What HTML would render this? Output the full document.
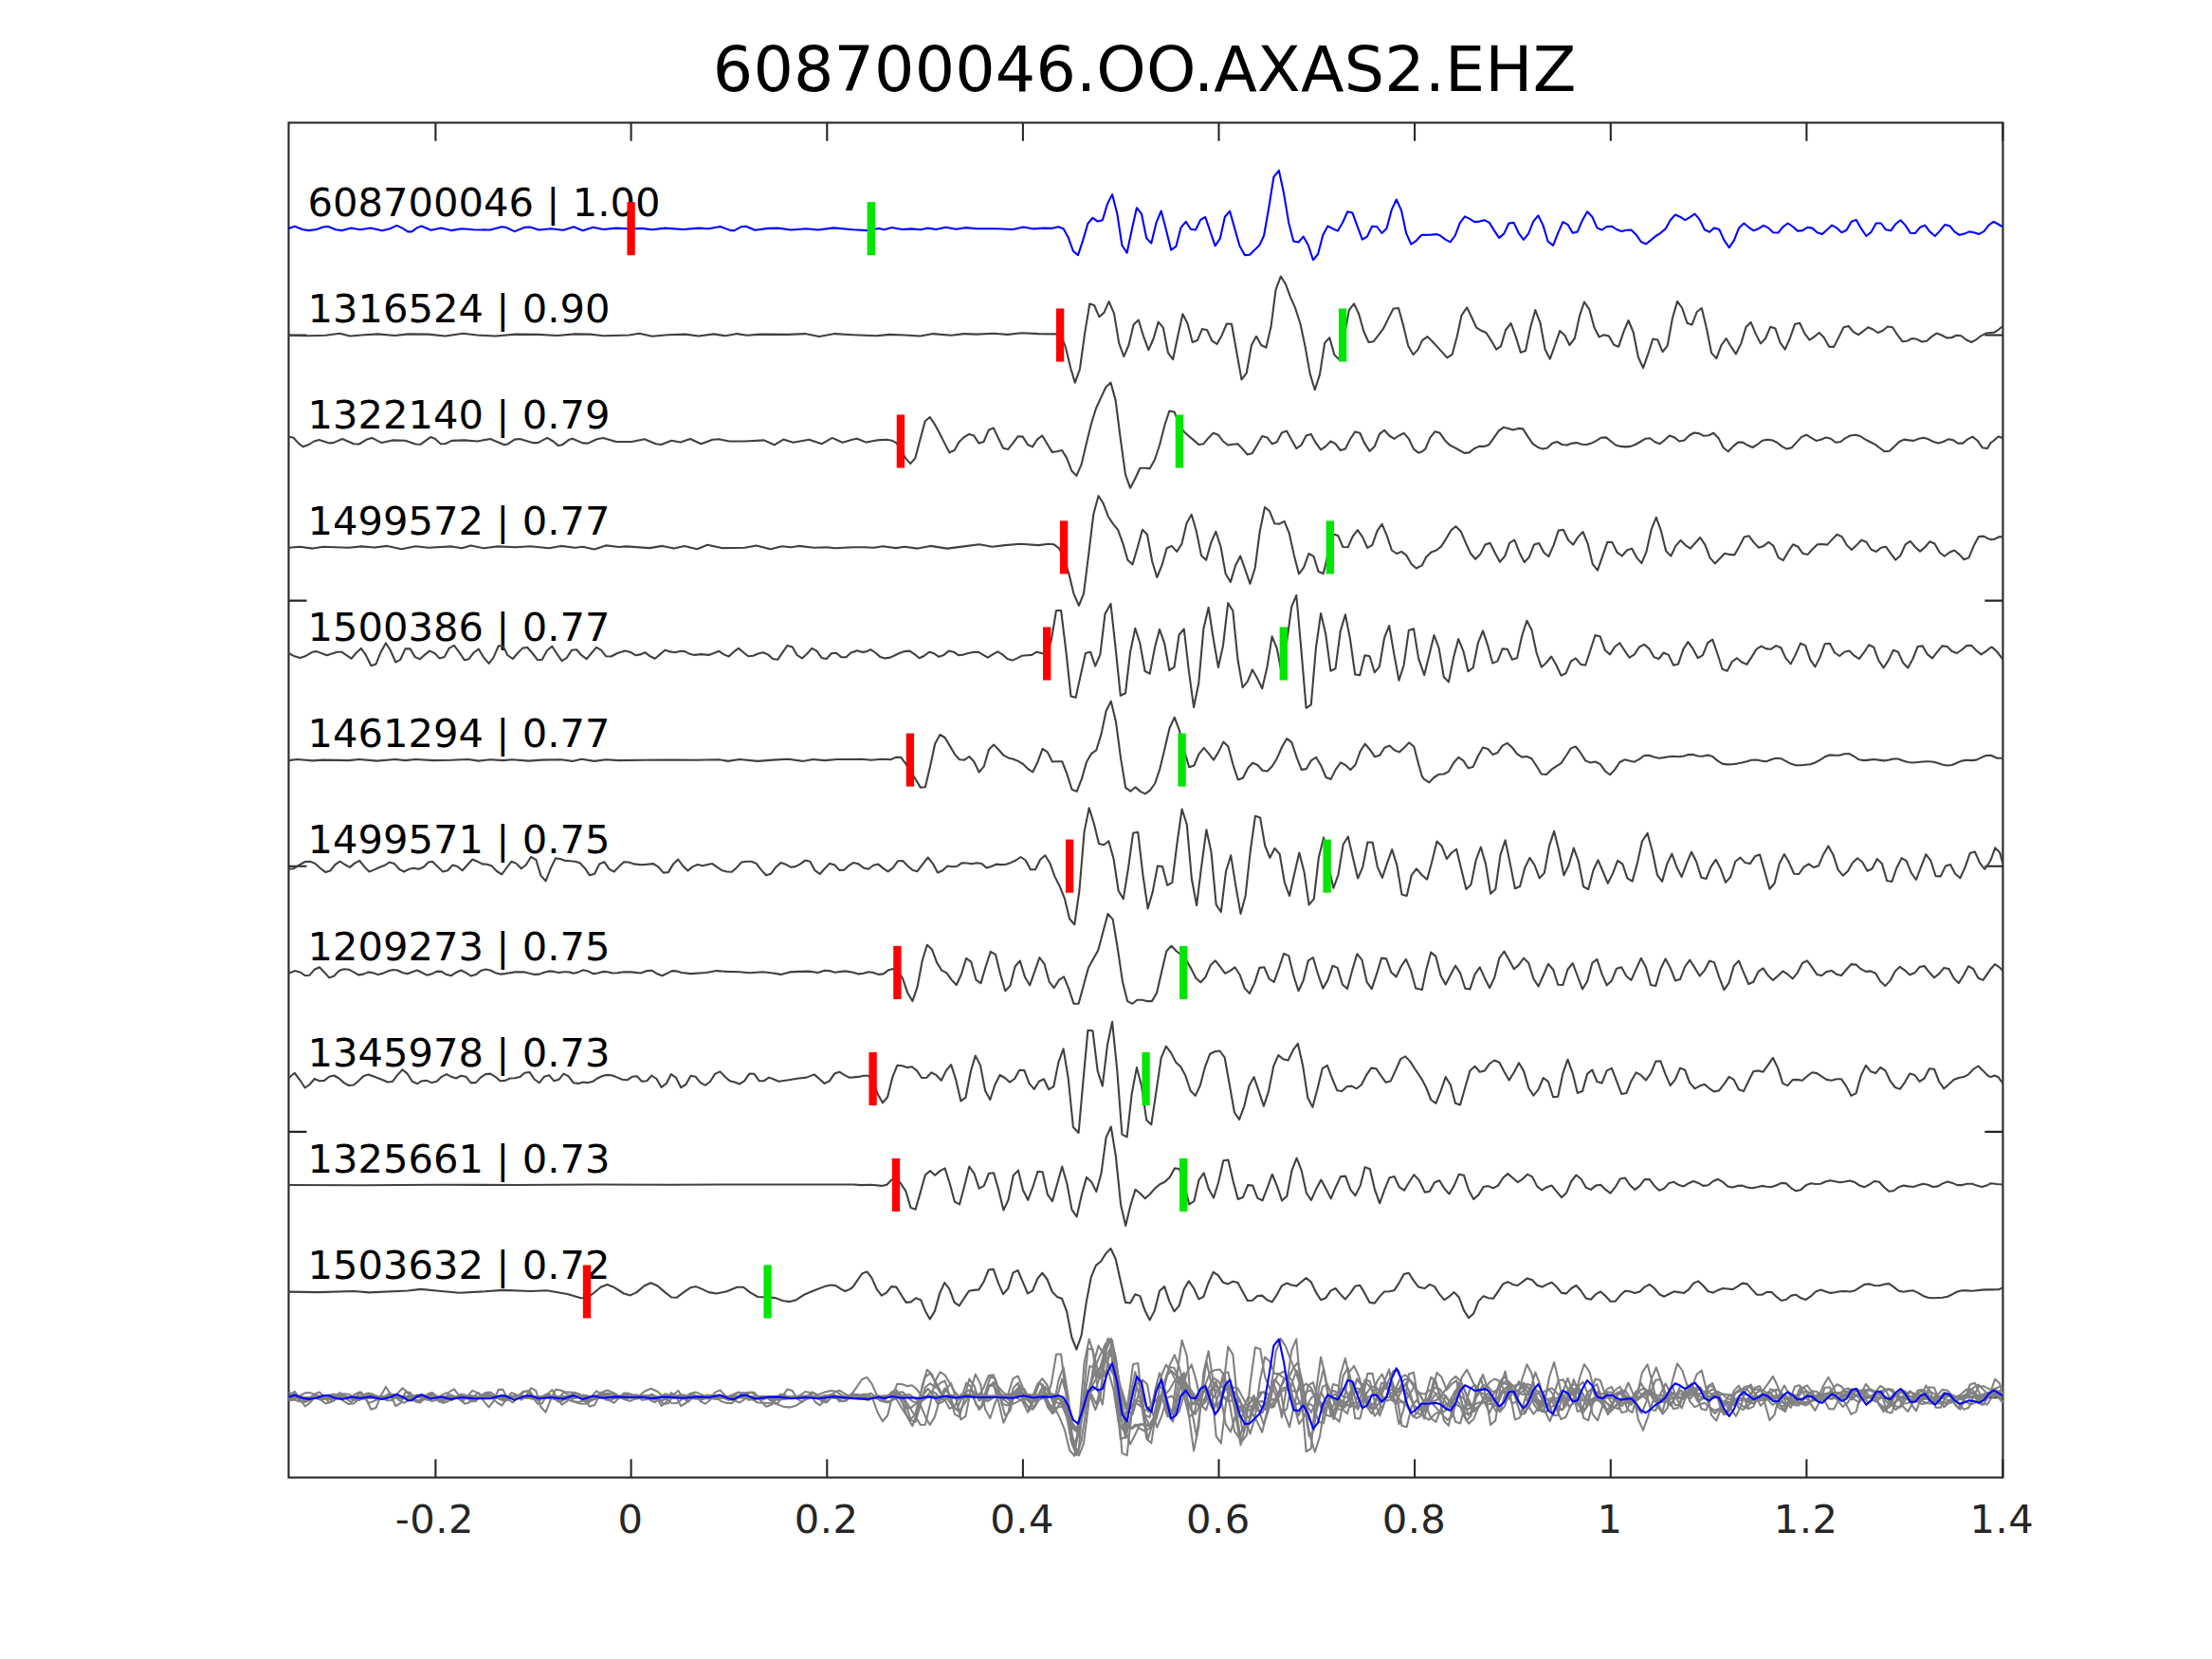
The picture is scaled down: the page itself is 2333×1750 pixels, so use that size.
<!DOCTYPE html>
<html><head><meta charset="utf-8"><title>608700046.OO.AXAS2.EHZ</title>
<style>html,body{margin:0;padding:0;background:#fff}svg{display:block}text{font-family:"DejaVu Sans","Liberation Sans",sans-serif}</style></head><body>
<svg width="2333" height="1750" viewBox="0 0 2333 1750">
<rect width="2333" height="1750" fill="#fff"/>
<text x="751.8" y="95.9" font-size="66.67" letter-spacing="0.17" fill="#000">608700046.OO.AXAS2.EHZ</text>
<g fill="none" stroke="#262626" stroke-width="2.08" stroke-linecap="square">
<rect x="304.45" y="129.45" width="1808.0" height="1429.1"/>
</g><g fill="none" stroke="#262626" stroke-width="2.08">
<path d="M459.4,1558.6 v-19.3 M459.4,129.45 v19.3"/>
<path d="M665.6,1558.6 v-19.3 M665.6,129.45 v19.3"/>
<path d="M872.3,1558.6 v-19.3 M872.3,129.45 v19.3"/>
<path d="M1078.9,1558.6 v-19.3 M1078.9,129.45 v19.3"/>
<path d="M1285.5,1558.6 v-19.3 M1285.5,129.45 v19.3"/>
<path d="M1492.1,1558.6 v-19.3 M1492.1,129.45 v19.3"/>
<path d="M1698.8,1558.6 v-19.3 M1698.8,129.45 v19.3"/>
<path d="M1905.4,1558.6 v-19.3 M1905.4,129.45 v19.3"/>
<path d="M2112.4,1558.6 v-19.3 M2112.4,129.45 v19.3"/>
<path d="M304.45,353.5 h19.0 M2112.4,353.5 h-19.0"/>
<path d="M304.45,633.6 h19.0 M2112.4,633.6 h-19.0"/>
<path d="M304.45,913.8 h19.0 M2112.4,913.8 h-19.0"/>
<path d="M304.45,1193.9 h19.0 M2112.4,1193.9 h-19.0"/>
<path d="M304.45,1474.1 h19.0 M2112.4,1474.1 h-19.0"/>
</g>
<text x="324.6" y="227.8" font-size="41.67" fill="#000">608700046 | 1.00</text>
<text x="324.6" y="340.1" font-size="41.67" fill="#000">1316524 | 0.90</text>
<text x="324.6" y="452.1" font-size="41.67" fill="#000">1322140 | 0.79</text>
<text x="324.6" y="564.0" font-size="41.67" fill="#000">1499572 | 0.77</text>
<text x="324.6" y="676.1" font-size="41.67" fill="#000">1500386 | 0.77</text>
<text x="324.6" y="788.2" font-size="41.67" fill="#000">1461294 | 0.77</text>
<text x="324.6" y="900.2" font-size="41.67" fill="#000">1499571 | 0.75</text>
<text x="324.6" y="1012.5" font-size="41.67" fill="#000">1209273 | 0.75</text>
<text x="324.6" y="1124.6" font-size="41.67" fill="#000">1345978 | 0.73</text>
<text x="324.6" y="1236.5" font-size="41.67" fill="#000">1325661 | 0.73</text>
<text x="324.6" y="1349.1" font-size="41.67" fill="#000">1503632 | 0.72</text>
<g fill="none" stroke-width="2.08" stroke-linejoin="round" stroke-linecap="butt">
<path stroke="#404040" d="M304.4,353.7 L324.4,354.3 L343.4,353.7 L358.3,351.8 L369.2,354.5 L384.1,353.2 L399.0,352.4 L416.6,354.0 L430.2,352.4 L451.9,352.6 L469.5,354.5 L488.5,351.8 L503.4,353.5 L522.4,354.5 L544.1,352.6 L568.5,352.9 L587.5,354.0 L606.5,352.4 L622.8,352.6 L636.3,354.3 L663.4,353.5 L674.3,351.8 L687.8,354.8 L704.1,353.2 L723.1,352.6 L736.7,354.5 L752.9,352.4 L765.1,354.3 L777.4,352.1 L788.2,353.7 L801.8,352.6 L831.6,352.9 L849.2,352.1 L864.1,355.1 L880.4,352.1 L899.9,353.2 L924.4,354.3 L938.0,352.9 L954.2,353.5 L970.5,354.5 L984.1,352.1 L1003.1,353.7 L1016.6,352.1 L1030.2,352.6 L1047.8,351.8 L1062.7,352.9 L1077.7,351.3 L1095.3,352.1 L1114.3,352.4 L1121.6,360.2 L1124.0,366.5 L1129.2,388.2 L1133.8,403.6 L1138.9,389.5 L1144.1,351.6 L1149.3,320.4 L1154.1,322.0 L1159.3,334.2 L1164.4,329.9 L1169.6,318.2 L1175.0,330.7 L1180.2,361.9 L1185.3,376.0 L1190.5,364.0 L1195.6,342.6 L1200.8,337.5 L1205.9,354.3 L1211.4,369.2 L1216.5,357.5 L1221.7,339.6 L1226.8,345.6 L1232.0,372.2 L1237.1,379.2 L1242.3,354.3 L1247.4,331.2 L1252.6,341.5 L1257.7,361.0 L1262.9,359.1 L1268.0,346.9 L1273.2,348.3 L1278.4,359.7 L1283.5,362.9 L1288.7,353.7 L1293.8,341.5 L1299.0,341.8 L1304.1,370.5 L1309.5,400.4 L1314.7,393.6 L1319.9,364.3 L1325.0,354.8 L1330.2,364.0 L1335.3,366.7 L1340.5,344.8 L1345.6,305.4 L1350.8,291.6 L1355.9,299.5 L1361.1,313.6 L1366.2,325.2 L1371.4,341.2 L1376.5,365.1 L1381.7,394.4 L1386.8,411.2 L1392.0,394.9 L1397.2,361.6 L1402.3,356.2 L1407.5,374.6 L1412.6,379.2 L1417.8,354.3 L1422.9,327.1 L1428.1,320.4 L1433.2,331.2 L1438.4,349.7 L1443.5,361.0 L1448.7,360.2 L1453.8,353.7 L1459.0,346.7 L1464.1,336.4 L1469.6,325.5 L1475.0,325.0 L1480.1,343.4 L1485.3,365.1 L1490.5,374.1 L1495.6,368.6 L1500.0,359.1 L1505.4,355.1 L1510.8,360.2 L1516.0,365.9 L1521.2,371.6 L1526.3,377.3 L1531.7,373.8 L1536.9,354.3 L1541.5,332.6 L1547.2,324.4 L1552.1,334.5 L1557.2,345.6 L1562.4,348.8 L1567.5,351.0 L1572.7,359.1 L1578.1,368.6 L1583.0,365.1 L1588.1,348.0 L1593.6,341.0 L1598.7,355.1 L1603.9,371.9 L1609.0,370.0 L1614.2,345.3 L1619.3,327.1 L1624.5,340.7 L1629.6,368.6 L1634.8,378.7 L1640.0,364.0 L1645.1,349.1 L1650.3,353.5 L1655.4,364.0 L1660.8,357.0 L1666.0,333.1 L1670.9,318.5 L1676.3,326.3 L1681.4,345.3 L1686.6,355.4 L1691.8,353.2 L1696.9,354.5 L1702.1,363.8 L1707.2,365.7 L1712.4,350.2 L1717.5,338.0 L1722.7,350.5 L1727.8,376.5 L1733.0,388.2 L1738.1,373.8 L1743.3,357.5 L1748.4,358.6 L1753.6,371.1 L1758.7,364.6 L1763.9,335.8 L1769.1,317.9 L1774.2,325.0 L1779.4,340.7 L1784.5,342.6 L1789.7,329.0 L1794.8,325.0 L1800.0,346.7 L1805.1,372.4 L1810.3,378.1 L1815.4,364.3 L1820.6,357.0 L1825.7,365.7 L1830.9,373.3 L1836.3,362.4 L1841.5,345.0 L1846.6,339.9 L1851.8,352.1 L1856.9,362.4 L1862.1,357.0 L1867.2,344.8 L1872.4,346.4 L1877.5,361.3 L1882.7,368.6 L1887.8,357.0 L1893.0,342.1 L1898.2,340.7 L1903.3,351.6 L1908.5,358.6 L1913.6,355.1 L1918.8,351.0 L1923.9,356.2 L1929.1,365.7 L1934.2,365.9 L1939.4,355.6 L1944.5,345.3 L1949.7,344.0 L1954.8,350.2 L1960.0,353.2 L1965.1,349.4 L1970.3,345.3 L1975.5,347.5 L1980.6,351.0 L1985.8,348.8 L1990.9,344.5 L1996.1,345.3 L2001.2,353.2 L2006.4,360.2 L2011.5,359.7 L2016.7,357.0 L2021.8,357.8 L2027.0,360.5 L2032.1,359.7 L2037.3,355.1 L2042.4,351.6 L2047.9,353.5 L2053.0,356.4 L2058.2,356.2 L2063.3,353.7 L2068.5,354.3 L2073.6,358.3 L2079.1,361.0 L2084.2,358.3 L2089.4,354.3 L2094.5,351.6 L2099.9,351.0 L2103.4,350.6 L2107.7,347.8 L2112.3,344.0"/>
<path stroke="#404040" d="M304.4,460.6 L309.5,461.7 L314.9,467.6 L319.5,471.2 L325.8,469.0 L331.2,465.5 L336.6,464.1 L347.5,467.4 L351.5,467.1 L361.0,463.0 L373.2,468.2 L378.7,468.5 L386.8,463.6 L392.2,461.9 L402.5,467.1 L413.9,464.4 L427.5,464.7 L438.3,468.5 L443.7,468.7 L454.1,461.1 L458.7,462.8 L464.9,468.2 L469.5,468.2 L476.3,464.9 L489.9,464.4 L503.4,465.5 L517.0,463.0 L531.9,469.3 L536.0,468.2 L542.7,463.6 L548.2,463.0 L561.7,467.1 L567.2,467.1 L577.2,461.9 L583.4,465.5 L588.9,470.1 L592.9,469.3 L599.7,464.1 L603.8,462.8 L614.6,467.4 L620.0,467.6 L629.5,463.3 L636.3,461.9 L649.9,466.0 L666.2,466.0 L679.7,463.3 L691.9,468.2 L697.3,469.0 L708.2,464.7 L717.7,466.6 L728.0,463.0 L739.4,468.2 L751.6,463.8 L758.4,463.3 L769.2,465.5 L785.5,465.5 L805.8,464.4 L816.7,469.3 L826.2,463.6 L836.5,466.8 L853.3,463.8 L866.9,468.2 L877.7,461.9 L888.6,466.8 L899.9,463.6 L904.1,462.8 L913.6,466.6 L924.4,464.4 L935.3,463.8 L940.7,464.7 L945.6,467.4 L950.7,476.3 L955.6,483.9 L960.2,489.1 L965.4,483.1 L970.5,463.6 L975.7,444.3 L980.8,440.0 L986.0,447.8 L991.1,457.3 L996.3,467.6 L1001.4,477.4 L1006.6,475.0 L1011.7,466.0 L1016.9,461.1 L1022.1,457.9 L1027.2,459.5 L1032.4,467.6 L1037.5,466.0 L1042.7,453.8 L1047.8,451.4 L1053.0,462.2 L1058.1,472.8 L1063.3,473.9 L1068.4,467.4 L1073.6,460.3 L1078.7,460.6 L1083.9,469.0 L1089.0,471.4 L1094.2,463.3 L1099.3,459.5 L1104.5,468.2 L1109.7,476.9 L1114.8,476.3 L1120.0,475.0 L1125.1,483.1 L1130.3,496.7 L1135.4,501.8 L1140.6,489.9 L1145.7,468.2 L1150.9,447.3 L1156.0,430.8 L1161.2,419.4 L1166.3,408.5 L1171.5,403.6 L1176.6,422.1 L1181.8,462.8 L1187.0,500.7 L1192.1,514.8 L1197.3,504.8 L1202.4,493.7 L1207.6,493.7 L1212.7,494.2 L1217.9,485.0 L1223.0,469.5 L1228.2,449.2 L1233.3,433.5 L1238.5,434.5 L1243.6,446.5 L1248.8,455.4 L1253.9,460.0 L1259.1,464.4 L1264.3,469.0 L1269.4,468.2 L1274.6,461.9 L1279.7,456.8 L1284.9,458.7 L1290.0,465.5 L1295.2,469.5 L1300.3,468.7 L1305.5,468.2 L1310.6,473.6 L1315.8,479.6 L1320.9,477.9 L1326.1,469.0 L1331.2,460.0 L1336.4,461.4 L1341.6,468.2 L1346.7,466.3 L1351.9,456.5 L1357.0,454.6 L1362.2,464.1 L1367.3,473.1 L1372.5,469.5 L1377.6,459.5 L1382.8,457.9 L1387.9,467.4 L1393.1,474.4 L1398.2,470.9 L1403.4,465.5 L1408.5,468.2 L1413.7,475.0 L1418.9,473.6 L1424.0,463.3 L1429.2,455.4 L1434.3,456.8 L1439.5,468.2 L1444.6,475.8 L1449.8,470.9 L1454.9,457.9 L1460.1,453.8 L1465.2,459.5 L1470.4,462.8 L1475.5,459.5 L1480.7,456.8 L1485.8,462.8 L1491.0,473.6 L1496.1,477.7 L1500.0,476.3 L1503.3,473.6 L1508.4,461.7 L1513.6,455.2 L1518.7,456.8 L1523.9,464.4 L1529.0,469.5 L1534.2,472.2 L1539.3,475.0 L1544.5,477.9 L1549.6,477.4 L1554.8,473.3 L1559.9,470.9 L1565.1,470.9 L1570.2,469.3 L1575.4,462.2 L1580.6,454.6 L1585.7,450.8 L1590.9,451.9 L1596.0,453.5 L1601.2,451.9 L1606.3,452.4 L1611.5,460.6 L1616.6,468.2 L1621.8,471.7 L1626.9,473.6 L1632.1,472.5 L1637.2,467.6 L1642.4,466.0 L1647.5,469.0 L1652.7,469.5 L1657.9,467.6 L1663.0,467.1 L1668.2,468.7 L1673.3,469.0 L1678.5,467.6 L1683.6,464.9 L1688.8,461.7 L1693.9,461.4 L1699.1,465.5 L1704.2,469.5 L1709.4,470.9 L1714.5,471.4 L1719.7,470.9 L1724.8,469.0 L1730.0,466.0 L1735.2,462.8 L1740.3,462.2 L1745.5,466.3 L1750.6,468.2 L1755.8,464.1 L1760.9,459.5 L1766.1,461.4 L1771.2,465.5 L1776.4,464.4 L1781.5,459.5 L1786.7,456.5 L1791.8,457.1 L1797.0,459.8 L1802.1,459.2 L1807.3,456.8 L1812.4,461.9 L1817.6,472.2 L1822.8,476.3 L1827.9,470.9 L1833.1,466.6 L1838.2,466.6 L1843.4,469.8 L1848.5,472.0 L1853.7,468.7 L1858.8,464.7 L1864.0,463.8 L1869.1,464.4 L1874.3,466.8 L1879.4,470.9 L1884.6,473.6 L1889.7,472.2 L1894.9,466.6 L1900.1,460.9 L1905.2,458.7 L1910.4,461.9 L1915.5,464.9 L1920.7,463.8 L1925.8,461.4 L1931.0,462.8 L1936.1,466.8 L1941.3,466.0 L1946.4,462.2 L1951.6,459.5 L1956.7,458.7 L1961.9,460.0 L1967.0,463.3 L1972.2,466.0 L1977.4,468.7 L1982.5,472.5 L1987.7,476.3 L1992.8,475.8 L1998.0,470.9 L2003.1,466.0 L2008.3,463.6 L2013.4,464.4 L2018.6,464.9 L2023.7,462.8 L2028.9,461.7 L2034.0,463.3 L2039.2,466.0 L2044.3,467.6 L2049.5,466.0 L2054.7,463.3 L2059.8,464.1 L2065.0,467.6 L2070.1,467.6 L2075.3,463.3 L2080.4,460.6 L2085.6,464.7 L2090.7,472.2 L2095.9,473.1 L2099.9,466.8 L2101.9,465.5 L2107.7,460.5 L2112.3,462.0"/>
<path stroke="#404040" d="M304.4,577.8 L316.3,576.7 L329.8,578.6 L340.7,576.7 L354.2,577.3 L367.8,577.8 L381.4,576.4 L394.9,577.5 L408.5,575.9 L423.4,579.2 L438.3,576.2 L451.9,577.8 L476.3,576.4 L487.1,578.3 L496.6,575.4 L510.2,578.3 L525.1,576.4 L544.1,577.3 L559.0,576.2 L579.4,578.3 L591.6,575.9 L606.5,577.8 L614.6,576.7 L626.8,579.4 L639.0,575.4 L652.6,577.0 L660.7,576.4 L685.1,578.1 L698.7,575.9 L710.9,578.6 L721.8,575.9 L735.3,579.2 L746.2,574.8 L761.1,578.1 L785.5,577.8 L797.7,575.6 L812.6,579.2 L824.8,576.2 L834.3,577.3 L842.4,575.9 L858.7,577.8 L872.3,577.3 L880.4,578.3 L899.9,577.3 L910.8,577.3 L921.7,577.8 L931.2,576.2 L944.8,578.1 L954.2,576.7 L967.8,578.6 L981.4,575.9 L999.0,578.6 L1016.6,576.4 L1032.9,574.3 L1046.5,576.7 L1060.0,575.1 L1076.3,573.7 L1095.3,575.1 L1106.1,573.7 L1111.6,574.3 L1117.0,578.3 L1122.1,588.7 L1127.3,604.9 L1132.4,626.1 L1137.9,638.8 L1143.0,626.1 L1148.2,584.6 L1153.3,542.5 L1158.5,523.0 L1163.6,530.9 L1168.8,544.7 L1173.9,552.6 L1179.1,558.8 L1184.2,572.9 L1189.4,590.8 L1194.5,595.4 L1199.7,577.8 L1204.9,558.8 L1210.0,563.7 L1215.2,592.2 L1220.3,609.0 L1225.5,596.2 L1230.6,578.3 L1235.8,575.9 L1241.2,581.9 L1246.4,573.7 L1251.5,552.0 L1256.7,542.8 L1261.8,560.2 L1267.0,585.9 L1272.1,590.8 L1277.3,572.4 L1282.4,560.7 L1287.6,577.0 L1292.7,605.5 L1297.9,613.9 L1303.0,596.8 L1308.2,586.5 L1313.3,600.9 L1318.5,615.8 L1323.7,599.0 L1328.8,560.2 L1334.0,535.0 L1339.1,539.3 L1344.3,552.3 L1349.4,552.6 L1354.6,549.9 L1359.7,562.3 L1364.9,585.9 L1370.0,605.5 L1375.2,598.4 L1380.3,584.0 L1385.5,586.8 L1390.6,603.0 L1395.8,604.9 L1400.9,583.2 L1406.1,563.4 L1411.3,565.1 L1416.4,577.0 L1421.6,577.3 L1426.7,565.9 L1431.9,559.1 L1437.0,566.4 L1442.2,577.8 L1447.3,575.1 L1452.5,560.2 L1457.6,552.9 L1462.8,565.1 L1467.9,580.5 L1473.1,584.0 L1478.2,581.9 L1483.4,585.9 L1488.6,594.9 L1493.7,599.5 L1498.9,596.8 L1500.0,596.0 L1504.1,587.8 L1509.5,582.4 L1514.9,580.5 L1520.1,576.4 L1525.2,568.3 L1530.4,559.4 L1535.5,555.3 L1540.7,560.4 L1545.8,572.4 L1551.0,583.8 L1556.1,589.7 L1561.3,584.6 L1566.4,574.6 L1571.6,572.7 L1576.8,583.2 L1581.9,592.7 L1587.1,586.8 L1592.2,572.7 L1597.4,569.7 L1602.5,582.7 L1607.7,593.0 L1612.8,587.6 L1618.0,574.6 L1623.1,572.9 L1628.3,582.7 L1633.4,587.0 L1638.6,575.1 L1643.7,559.6 L1648.9,558.8 L1654.1,569.7 L1659.2,574.6 L1664.4,566.4 L1669.5,561.0 L1674.7,573.7 L1679.8,595.2 L1685.0,601.7 L1690.1,586.8 L1695.3,571.8 L1700.4,572.1 L1705.6,582.7 L1710.7,586.5 L1715.9,580.5 L1721.0,578.6 L1726.2,588.1 L1731.4,594.1 L1736.5,581.9 L1741.7,558.3 L1746.8,545.8 L1752.0,560.2 L1757.1,581.3 L1762.3,586.5 L1767.4,575.9 L1772.6,569.9 L1777.7,575.1 L1782.9,578.6 L1788.0,572.7 L1793.2,567.0 L1798.3,574.6 L1803.5,588.4 L1808.7,594.4 L1813.8,589.2 L1819.0,583.8 L1824.1,584.9 L1829.3,585.4 L1834.4,576.4 L1839.6,566.4 L1844.7,565.3 L1849.9,572.4 L1855.0,577.8 L1860.2,575.9 L1865.3,571.8 L1870.5,575.9 L1875.6,588.1 L1880.8,591.1 L1886.0,581.9 L1891.1,574.3 L1896.3,576.7 L1901.4,583.8 L1906.6,584.9 L1911.7,579.2 L1916.9,574.3 L1922.0,574.0 L1927.2,574.6 L1932.3,569.1 L1937.5,563.7 L1942.6,566.1 L1947.8,575.1 L1952.9,580.0 L1958.1,575.1 L1963.2,569.7 L1968.4,571.8 L1973.6,579.7 L1978.7,581.9 L1983.9,577.8 L1989.0,576.7 L1994.2,583.8 L1999.3,590.6 L2004.5,585.9 L2009.6,574.3 L2014.8,570.8 L2019.9,577.0 L2025.1,581.6 L2030.2,577.3 L2035.4,571.3 L2040.5,573.5 L2045.7,582.7 L2050.9,586.8 L2056.0,582.7 L2061.2,580.5 L2066.3,584.6 L2071.5,590.3 L2076.6,588.1 L2081.8,575.6 L2086.9,566.1 L2092.1,565.6 L2097.2,568.3 L2099.9,569.1 L2103.4,568.7 L2109.2,566.0 L2112.3,566.7"/>
<path stroke="#404040" d="M304.4,689.0 L310.8,692.3 L316.3,693.9 L321.7,692.3 L329.8,687.7 L333.9,687.1 L344.8,691.2 L355.6,687.7 L360.2,687.7 L370.5,694.7 L375.9,688.5 L380.8,683.9 L386.0,691.2 L391.4,702.3 L396.6,700.4 L401.7,687.7 L406.9,678.4 L412.0,686.3 L417.2,698.5 L422.3,695.8 L427.5,684.4 L432.6,684.4 L437.8,693.1 L442.9,695.2 L448.1,690.6 L453.2,686.6 L458.4,689.0 L463.5,694.4 L468.7,693.1 L473.9,683.6 L479.0,680.9 L484.2,687.9 L489.9,696.3 L494.5,695.2 L499.6,688.5 L504.8,684.7 L509.9,693.1 L515.6,699.9 L520.5,693.6 L525.7,681.4 L530.5,681.4 L535.4,691.2 L540.8,695.0 L546.0,689.0 L551.2,683.6 L556.3,683.0 L561.5,689.0 L567.2,696.3 L571.8,695.8 L576.9,686.3 L582.3,681.7 L587.5,689.8 L592.6,697.1 L597.8,693.9 L603.0,685.8 L608.1,685.2 L613.3,691.2 L618.7,695.2 L623.8,689.0 L629.0,682.8 L634.1,685.8 L639.3,692.3 L644.5,692.5 L651.2,689.0 L659.4,686.6 L664.8,687.9 L670.2,691.2 L675.6,690.4 L680.3,688.2 L685.7,692.3 L690.8,694.7 L696.0,690.4 L701.4,685.8 L706.8,687.4 L712.3,688.2 L717.7,686.8 L722.3,687.1 L727.4,689.8 L732.6,690.9 L739.4,690.1 L747.5,690.9 L752.9,689.0 L758.4,686.8 L763.5,690.4 L768.7,692.5 L773.8,687.7 L779.0,683.9 L784.1,688.2 L789.3,692.3 L794.4,691.7 L799.6,689.5 L804.7,688.2 L809.9,690.4 L815.1,695.0 L820.2,695.8 L825.4,688.2 L830.5,680.9 L835.7,682.5 L840.8,691.2 L846.0,694.4 L851.1,689.8 L856.3,683.9 L861.4,686.6 L866.6,693.9 L871.7,695.0 L876.9,689.3 L882.0,688.7 L887.2,693.1 L892.4,693.3 L897.5,688.5 L899.9,687.7 L904.1,686.3 L909.5,687.9 L913.6,687.4 L918.2,685.2 L923.3,688.5 L928.5,693.1 L933.6,694.4 L938.8,693.6 L943.9,691.2 L949.1,688.7 L954.2,687.1 L959.4,686.6 L964.6,690.1 L969.7,694.2 L974.9,691.7 L980.0,687.7 L985.2,689.3 L990.3,692.8 L995.5,690.9 L1000.6,686.6 L1005.8,687.7 L1010.9,691.2 L1016.1,690.6 L1021.2,689.0 L1026.4,687.9 L1031.5,687.7 L1036.7,690.6 L1041.8,693.6 L1047.0,690.4 L1052.2,687.4 L1057.3,690.4 L1062.5,695.0 L1067.6,696.6 L1072.8,694.4 L1077.9,691.7 L1083.1,691.2 L1088.2,690.9 L1093.4,687.7 L1098.5,689.0 L1103.7,690.4 L1108.8,675.4 L1114.0,644.0 L1119.1,644.0 L1124.3,686.3 L1129.5,734.6 L1134.6,735.7 L1139.8,712.1 L1144.9,689.0 L1150.1,687.7 L1155.2,702.6 L1160.4,690.4 L1165.5,647.5 L1171.5,636.9 L1176.6,683.6 L1181.8,733.8 L1187.0,731.3 L1192.1,687.7 L1197.3,662.7 L1202.4,678.7 L1207.6,708.0 L1212.7,710.7 L1217.9,683.6 L1223.0,663.8 L1228.2,678.7 L1233.3,707.2 L1238.5,703.7 L1243.6,669.5 L1248.8,663.5 L1253.9,708.0 L1259.1,746.0 L1264.3,720.2 L1269.4,663.2 L1274.6,640.7 L1279.7,673.5 L1284.9,703.9 L1290.0,680.9 L1295.2,636.1 L1300.3,644.3 L1305.5,695.8 L1310.6,725.1 L1315.8,718.8 L1320.9,706.4 L1326.1,715.6 L1331.2,726.2 L1336.4,703.9 L1341.6,671.4 L1346.7,683.6 L1351.9,710.7 L1357.0,678.2 L1362.2,640.2 L1367.3,628.0 L1372.5,686.3 L1377.6,746.8 L1382.8,743.3 L1387.9,683.6 L1393.1,647.0 L1398.2,668.7 L1403.4,707.7 L1408.5,705.3 L1413.7,666.0 L1418.9,648.3 L1424.0,674.1 L1429.2,711.5 L1434.3,712.1 L1439.5,691.2 L1444.6,692.3 L1449.8,709.3 L1454.9,703.1 L1460.1,672.7 L1465.2,660.0 L1470.4,690.4 L1475.5,717.8 L1480.7,701.2 L1485.8,665.1 L1491.0,663.2 L1496.1,694.4 L1499.9,705.3 L1502.2,712.1 L1507.3,691.2 L1512.5,670.0 L1517.6,683.6 L1522.8,714.0 L1527.9,719.4 L1533.1,693.6 L1538.2,674.1 L1543.4,686.8 L1548.5,708.3 L1553.7,704.2 L1558.9,678.2 L1564.0,665.4 L1569.2,680.9 L1574.3,699.6 L1579.5,697.4 L1584.6,684.4 L1589.8,684.7 L1594.9,695.8 L1600.1,693.9 L1605.2,670.8 L1610.4,654.8 L1615.5,664.6 L1620.7,689.0 L1625.8,703.7 L1631.0,699.0 L1636.2,692.5 L1641.3,701.2 L1646.5,712.6 L1651.6,710.2 L1656.8,697.7 L1661.9,694.4 L1667.1,700.7 L1672.2,701.8 L1677.4,685.8 L1682.5,670.0 L1687.7,671.4 L1692.8,685.8 L1698.0,690.4 L1703.1,682.2 L1708.3,678.2 L1713.5,686.3 L1718.6,693.6 L1723.8,690.4 L1728.9,682.5 L1734.1,679.8 L1739.2,684.1 L1744.4,693.1 L1749.5,695.0 L1754.7,688.5 L1759.8,690.9 L1765.0,701.8 L1770.1,700.4 L1775.3,684.9 L1780.4,677.1 L1785.6,684.4 L1790.8,694.2 L1795.9,691.2 L1801.1,678.2 L1806.2,674.6 L1811.4,689.5 L1816.5,705.8 L1821.7,707.7 L1826.8,698.0 L1832.0,694.2 L1837.1,698.5 L1842.3,700.9 L1847.4,693.1 L1852.6,684.7 L1857.7,681.7 L1862.9,684.4 L1868.0,684.7 L1873.2,681.1 L1878.4,683.3 L1883.5,694.4 L1888.7,700.4 L1893.8,690.4 L1899.0,678.7 L1904.1,680.9 L1909.3,695.8 L1914.4,703.4 L1919.6,693.1 L1924.7,679.2 L1929.9,678.7 L1935.0,688.5 L1940.2,692.0 L1945.3,687.7 L1950.5,686.6 L1955.7,691.7 L1960.8,695.0 L1966.0,688.2 L1971.1,680.3 L1976.3,682.8 L1981.4,696.6 L1986.6,704.5 L1991.7,696.6 L1996.9,685.8 L2002.0,687.7 L2007.2,699.3 L2012.3,704.5 L2017.5,695.0 L2022.6,682.0 L2027.8,681.4 L2033.0,690.4 L2038.1,694.4 L2043.3,687.7 L2048.4,681.4 L2053.6,682.0 L2058.7,687.1 L2063.9,689.0 L2069.0,685.5 L2074.2,681.1 L2079.3,680.9 L2084.5,686.3 L2089.6,690.4 L2094.8,686.8 L2099.9,682.8 L2101.4,682.9 L2106.3,687.5 L2112.3,695.3"/>
<path stroke="#404040" d="M304.4,802.1 L313.6,801.0 L329.8,802.4 L340.7,801.6 L367.8,802.1 L378.7,801.0 L397.6,802.6 L416.6,801.0 L427.5,802.1 L438.3,801.0 L457.3,802.1 L476.3,801.8 L493.9,801.0 L504.8,802.6 L517.0,801.3 L530.5,802.1 L540.0,801.3 L557.7,802.6 L571.2,801.6 L591.6,801.3 L603.8,802.9 L613.3,800.8 L626.8,802.9 L639.0,801.3 L652.6,802.1 L679.7,801.8 L706.8,801.6 L734.0,801.8 L758.4,801.3 L767.9,802.9 L780.1,801.0 L799.1,802.9 L815.3,801.6 L831.6,800.8 L846.5,802.9 L857.4,801.0 L869.6,802.1 L883.1,801.0 L899.9,801.0 L908.1,800.8 L919.0,801.8 L929.8,800.8 L939.3,801.3 L944.8,798.9 L950.2,798.9 L955.3,805.6 L960.5,813.8 L965.6,821.9 L970.8,830.6 L975.9,830.3 L981.1,808.3 L986.2,784.5 L991.4,775.0 L996.6,778.0 L1001.7,786.6 L1006.9,795.6 L1012.0,801.3 L1017.2,801.6 L1022.3,798.0 L1027.5,803.7 L1032.6,814.6 L1037.8,808.3 L1042.9,790.7 L1048.1,785.6 L1053.2,790.7 L1058.4,796.7 L1063.5,799.4 L1068.7,800.8 L1073.9,802.9 L1079.0,805.9 L1084.2,811.1 L1089.3,814.3 L1094.5,803.7 L1099.6,789.9 L1104.8,793.4 L1109.9,803.5 L1115.1,803.2 L1120.2,803.2 L1125.4,816.5 L1130.5,832.8 L1135.7,834.9 L1140.8,821.9 L1146.0,803.7 L1151.2,794.8 L1156.3,791.3 L1161.5,774.4 L1166.6,750.0 L1171.8,739.7 L1176.9,760.9 L1182.1,800.2 L1187.2,830.9 L1192.4,834.7 L1197.5,830.3 L1202.7,834.9 L1207.8,837.4 L1213.0,833.6 L1218.1,826.5 L1223.3,811.1 L1228.5,789.4 L1233.6,767.7 L1238.8,756.8 L1243.9,770.4 L1249.1,792.1 L1254.2,809.2 L1259.4,807.5 L1264.5,795.3 L1269.7,788.8 L1274.8,794.8 L1280.0,801.6 L1285.1,793.4 L1290.3,782.6 L1295.4,787.5 L1300.6,807.0 L1305.7,822.4 L1310.9,820.8 L1316.1,810.2 L1321.2,804.8 L1326.4,807.0 L1331.5,812.7 L1336.7,813.5 L1341.8,808.3 L1347.0,799.7 L1352.1,788.0 L1357.3,779.1 L1362.4,783.1 L1367.6,798.9 L1372.7,811.9 L1377.9,811.1 L1383.0,802.1 L1388.2,798.9 L1393.4,807.8 L1398.5,820.0 L1403.7,821.9 L1408.8,811.6 L1414.0,804.3 L1419.1,807.0 L1424.3,811.9 L1429.4,807.0 L1434.6,792.6 L1439.7,784.7 L1444.9,790.7 L1450.0,798.3 L1455.2,796.7 L1460.3,788.8 L1465.5,786.6 L1470.7,791.3 L1475.8,793.4 L1481.0,788.8 L1486.1,783.4 L1491.3,787.5 L1496.4,807.0 L1499.9,819.2 L1502.2,822.2 L1507.3,825.4 L1512.5,820.0 L1517.6,816.8 L1522.8,816.5 L1527.9,813.8 L1533.1,804.8 L1538.2,798.9 L1543.4,802.4 L1548.5,810.2 L1553.7,808.9 L1558.9,797.5 L1564.0,788.5 L1569.2,789.9 L1574.3,795.9 L1579.5,794.0 L1584.6,786.6 L1589.8,783.9 L1594.9,788.5 L1600.1,795.3 L1605.2,798.6 L1610.4,798.0 L1615.5,800.2 L1620.7,808.3 L1625.8,816.5 L1631.0,817.0 L1636.2,811.9 L1641.3,808.3 L1646.5,805.1 L1651.6,797.5 L1656.8,789.4 L1661.9,787.5 L1667.1,794.2 L1672.2,802.4 L1677.4,804.5 L1682.5,803.5 L1687.7,806.2 L1692.8,813.2 L1698.0,817.3 L1703.1,811.9 L1708.3,804.0 L1713.5,801.3 L1718.6,802.6 L1723.8,803.7 L1728.9,800.8 L1734.1,797.0 L1739.2,796.7 L1744.4,798.6 L1749.5,799.7 L1754.7,799.1 L1759.8,798.3 L1765.0,797.8 L1770.1,798.3 L1775.3,797.8 L1780.4,796.1 L1785.6,795.9 L1790.8,797.5 L1795.9,797.8 L1801.1,796.4 L1806.2,798.0 L1811.4,802.4 L1816.5,805.6 L1821.7,806.4 L1826.8,806.2 L1832.0,805.6 L1837.1,804.5 L1842.3,803.2 L1847.4,801.8 L1852.6,801.6 L1857.7,802.6 L1862.9,803.2 L1868.0,801.3 L1873.2,799.7 L1878.4,800.2 L1883.5,802.9 L1888.7,805.6 L1893.8,807.3 L1899.0,807.3 L1904.1,806.7 L1909.3,806.2 L1914.4,804.5 L1919.6,801.6 L1924.7,798.3 L1929.9,796.4 L1935.0,796.7 L1940.2,796.7 L1945.3,795.3 L1950.5,795.1 L1955.7,798.0 L1960.8,801.3 L1966.0,802.1 L1971.1,801.6 L1976.3,801.0 L1981.4,801.6 L1986.6,802.4 L1991.7,801.8 L1996.9,800.5 L2002.0,800.5 L2007.2,802.4 L2012.3,804.0 L2017.5,804.5 L2022.6,804.0 L2027.8,803.5 L2033.0,803.2 L2038.1,803.5 L2043.3,804.8 L2048.4,806.4 L2053.6,807.5 L2058.7,807.0 L2063.9,804.8 L2069.0,802.6 L2074.2,801.8 L2079.3,802.1 L2084.5,801.6 L2089.6,799.1 L2094.8,797.0 L2099.9,796.7 L2106.3,799.7 L2112.3,799.7"/>
<path stroke="#404040" d="M304.4,916.8 L309.5,916.3 L314.9,912.8 L321.7,909.0 L327.1,908.7 L332.5,910.9 L338.0,916.0 L343.4,920.1 L348.3,918.5 L353.4,912.2 L358.6,908.7 L363.7,912.0 L368.9,914.9 L374.0,910.6 L379.2,907.9 L384.4,914.4 L389.5,919.5 L394.7,917.4 L400.4,914.7 L405.8,912.8 L410.7,909.5 L415.8,910.9 L421.0,916.8 L426.1,919.5 L431.3,916.8 L436.4,915.7 L441.6,916.8 L446.7,914.7 L451.9,909.5 L456.0,908.7 L461.4,914.1 L467.1,919.5 L472.2,918.2 L477.4,912.5 L482.5,914.1 L487.7,918.2 L493.1,912.2 L498.3,906.5 L503.4,908.7 L508.6,911.4 L513.7,911.7 L518.9,913.6 L524.0,919.0 L529.2,922.3 L534.3,915.5 L539.5,908.7 L544.6,910.9 L549.8,916.3 L554.9,912.2 L560.1,903.8 L565.3,906.8 L570.4,923.6 L575.6,929.3 L580.7,916.3 L585.9,905.4 L591.0,906.0 L596.2,907.9 L601.3,908.2 L606.5,908.7 L611.6,910.3 L616.8,915.7 L621.9,923.3 L627.1,921.7 L632.2,911.4 L637.4,909.2 L642.6,916.8 L647.7,919.5 L652.9,914.1 L658.0,909.2 L663.2,909.5 L668.3,911.4 L677.0,912.2 L689.2,911.1 L694.6,914.7 L699.8,920.6 L704.9,920.1 L710.1,911.4 L715.2,906.5 L720.4,913.6 L725.5,918.5 L730.7,914.1 L735.9,912.0 L741.0,913.3 L746.2,912.0 L751.3,911.1 L756.5,914.9 L761.6,918.2 L766.8,919.5 L771.9,919.8 L777.1,914.9 L782.2,909.5 L787.4,908.7 L792.5,908.7 L797.7,910.9 L802.8,917.6 L808.0,923.3 L813.2,921.7 L818.3,914.7 L823.5,910.1 L828.6,911.7 L833.8,914.7 L838.9,914.1 L844.1,911.4 L849.2,907.6 L854.4,908.7 L859.5,918.2 L864.7,922.0 L869.8,916.3 L875.0,910.9 L880.1,912.2 L885.3,917.9 L890.5,917.6 L895.6,912.8 L899.9,910.1 L905.4,911.3 L910.8,915.4 L916.0,916.7 L921.2,912.7 L926.3,911.6 L931.5,915.9 L936.6,919.4 L941.8,915.4 L946.9,908.3 L952.1,908.0 L957.2,913.2 L962.4,917.8 L967.5,919.2 L972.7,912.1 L978.7,904.5 L983.8,910.8 L989.0,920.5 L994.1,918.3 L999.3,913.5 L1004.4,914.3 L1009.6,913.7 L1014.7,910.2 L1019.9,910.5 L1025.0,911.3 L1030.2,910.2 L1035.3,911.0 L1040.5,915.4 L1045.6,914.0 L1050.8,911.6 L1056.0,912.1 L1061.1,911.8 L1066.3,909.9 L1071.4,907.5 L1076.6,904.0 L1081.7,907.5 L1086.9,917.3 L1092.0,917.3 L1097.2,906.7 L1102.3,902.3 L1107.5,910.8 L1112.6,924.9 L1117.8,935.2 L1122.9,947.9 L1128.1,969.3 L1133.3,975.3 L1138.4,939.5 L1143.6,877.1 L1148.7,852.2 L1153.9,869.0 L1159.0,889.9 L1164.2,891.2 L1169.3,887.2 L1174.5,905.6 L1179.6,939.5 L1184.8,948.2 L1189.9,916.4 L1195.1,878.7 L1200.2,877.7 L1205.4,922.7 L1210.6,958.5 L1215.7,940.9 L1220.9,913.5 L1226.0,914.0 L1231.2,933.8 L1236.3,930.8 L1241.5,889.3 L1246.6,853.5 L1251.8,869.8 L1256.9,927.3 L1262.1,955.0 L1267.2,913.7 L1272.4,875.2 L1277.5,898.8 L1282.7,954.4 L1287.8,962.0 L1293.0,919.2 L1298.2,902.3 L1303.3,934.1 L1308.5,963.9 L1313.6,944.9 L1318.8,897.5 L1323.9,860.8 L1329.1,862.5 L1334.2,892.0 L1339.4,904.8 L1344.5,894.8 L1349.7,901.0 L1354.8,930.8 L1360.0,944.9 L1365.1,921.9 L1370.3,899.6 L1375.5,919.7 L1380.6,954.4 L1385.8,948.2 L1390.9,904.2 L1396.1,883.4 L1401.2,913.7 L1406.4,936.8 L1411.5,922.7 L1416.7,890.7 L1421.8,882.5 L1427.0,905.1 L1432.1,926.5 L1437.3,914.6 L1442.4,888.5 L1447.6,888.5 L1452.8,914.3 L1457.9,925.9 L1463.1,910.2 L1468.2,896.1 L1473.4,912.9 L1478.5,943.6 L1483.7,944.9 L1488.8,923.2 L1494.0,916.4 L1499.9,923.2 L1505.2,927.7 L1510.3,908.7 L1515.5,887.5 L1520.6,892.4 L1525.8,906.0 L1530.9,899.7 L1536.1,895.7 L1541.2,916.8 L1546.4,938.0 L1551.5,933.1 L1556.7,907.3 L1561.8,893.5 L1567.0,911.4 L1572.1,942.6 L1577.3,938.0 L1582.5,901.9 L1587.6,886.2 L1592.8,911.4 L1597.9,937.2 L1603.1,935.0 L1608.2,915.5 L1613.4,904.9 L1618.5,912.5 L1623.7,926.3 L1628.8,920.9 L1634.0,892.4 L1639.1,876.7 L1644.3,897.8 L1649.4,923.3 L1654.6,912.5 L1659.8,894.6 L1664.9,908.7 L1670.1,935.3 L1675.2,938.0 L1680.4,918.2 L1685.5,907.3 L1690.7,919.5 L1695.8,931.8 L1701.0,921.4 L1706.1,907.9 L1711.3,911.4 L1716.4,926.3 L1721.6,929.6 L1726.7,911.4 L1731.9,887.5 L1737.6,878.9 L1742.7,897.8 L1747.9,922.8 L1753.1,929.9 L1758.2,911.4 L1763.4,900.6 L1768.5,914.9 L1773.7,925.0 L1778.8,910.9 L1784.0,898.7 L1789.1,908.7 L1794.3,925.5 L1799.4,927.1 L1804.6,914.1 L1809.7,906.8 L1814.9,916.8 L1820.0,930.9 L1825.2,925.0 L1830.3,908.7 L1835.5,904.6 L1840.7,910.1 L1845.8,911.1 L1851.0,903.3 L1856.1,901.6 L1861.3,919.5 L1866.4,937.7 L1871.6,931.8 L1876.7,910.9 L1881.9,901.1 L1887.0,910.1 L1892.2,921.7 L1897.3,922.0 L1902.5,914.7 L1907.6,911.4 L1912.8,914.9 L1918.0,913.3 L1923.1,901.4 L1928.3,892.4 L1933.4,901.4 L1938.6,917.4 L1943.7,923.6 L1948.9,919.0 L1954.0,910.1 L1959.2,905.2 L1964.3,909.5 L1969.5,918.7 L1974.6,916.3 L1979.8,906.0 L1984.9,910.9 L1990.1,929.0 L1995.3,930.1 L2000.4,915.5 L2005.6,905.2 L2010.7,908.2 L2015.9,920.9 L2021.0,928.0 L2026.2,914.1 L2031.3,901.1 L2036.5,908.2 L2041.6,924.2 L2046.8,924.4 L2051.9,913.6 L2057.1,912.0 L2062.2,921.7 L2067.4,926.3 L2072.6,914.9 L2077.7,900.0 L2082.9,898.4 L2088.0,910.1 L2093.2,916.8 L2096.7,912.2 L2099.9,906.5 L2104.2,894.3 L2109.2,899.2 L2112.3,910.8"/>
<path stroke="#404040" d="M304.4,1026.8 L310.8,1024.1 L316.3,1025.4 L321.7,1029.0 L326.6,1028.7 L331.7,1022.7 L336.9,1020.3 L342.0,1025.4 L347.2,1031.4 L352.3,1029.5 L357.5,1024.1 L362.7,1022.2 L367.8,1022.7 L373.0,1025.4 L378.1,1028.4 L383.3,1027.6 L388.4,1025.4 L393.6,1026.2 L398.7,1028.1 L403.9,1026.8 L409.0,1024.4 L414.2,1023.0 L419.3,1023.5 L424.5,1026.0 L429.6,1027.3 L434.8,1025.2 L440.0,1023.5 L445.1,1026.0 L450.3,1028.7 L455.4,1027.3 L460.6,1024.6 L465.7,1024.9 L470.9,1028.1 L476.0,1029.2 L481.2,1025.7 L486.3,1023.5 L491.5,1026.2 L496.6,1029.5 L501.8,1028.1 L506.9,1024.1 L512.1,1022.5 L517.2,1023.5 L522.4,1026.2 L527.6,1027.6 L532.7,1027.1 L537.9,1026.2 L543.0,1025.4 L548.2,1025.2 L553.3,1025.4 L558.5,1026.8 L563.6,1027.9 L568.8,1027.6 L573.9,1025.7 L579.1,1024.4 L584.2,1024.9 L589.4,1026.0 L594.5,1025.2 L599.7,1025.2 L604.9,1026.8 L610.0,1025.4 L615.2,1023.3 L620.3,1024.4 L625.5,1027.1 L630.6,1026.5 L635.8,1024.9 L640.9,1025.2 L646.1,1026.5 L651.2,1026.2 L658.0,1025.2 L666.2,1025.4 L675.6,1026.5 L682.4,1024.1 L687.8,1023.8 L693.3,1027.3 L698.4,1029.2 L703.6,1026.8 L708.7,1024.1 L713.9,1024.4 L719.0,1026.0 L728.5,1027.1 L744.8,1026.0 L755.7,1024.1 L766.5,1024.9 L780.1,1025.2 L790.9,1026.2 L804.5,1025.2 L815.3,1026.5 L823.5,1027.9 L833.0,1025.4 L842.4,1024.9 L853.3,1024.6 L862.8,1026.0 L869.6,1023.8 L875.0,1024.1 L880.4,1025.7 L891.3,1024.4 L899.9,1025.7 L905.4,1027.4 L910.8,1026.8 L916.0,1025.2 L921.2,1026.0 L926.3,1027.9 L931.5,1027.4 L936.6,1023.6 L941.8,1022.0 L946.9,1023.6 L952.1,1032.3 L957.2,1047.2 L962.4,1056.1 L967.5,1041.2 L972.7,1013.5 L977.8,996.7 L983.0,1001.6 L988.1,1015.4 L993.3,1023.6 L998.5,1026.3 L1003.6,1033.6 L1008.8,1039.0 L1013.9,1027.7 L1019.1,1010.8 L1024.2,1014.6 L1029.4,1033.6 L1034.5,1037.1 L1039.7,1019.5 L1044.8,1003.8 L1050.0,1006.8 L1055.1,1027.7 L1060.3,1045.3 L1065.4,1039.9 L1070.6,1019.5 L1075.8,1013.5 L1080.9,1030.4 L1086.1,1039.3 L1091.2,1024.9 L1096.4,1010.0 L1101.5,1016.8 L1106.7,1035.8 L1111.8,1042.0 L1117.0,1033.6 L1122.1,1030.4 L1127.3,1043.1 L1132.4,1058.8 L1137.6,1058.8 L1142.7,1039.9 L1147.9,1020.9 L1153.1,1011.4 L1158.2,1002.4 L1163.4,982.9 L1168.5,963.9 L1173.7,969.9 L1178.8,1000.5 L1184.0,1035.8 L1189.1,1056.1 L1194.3,1058.8 L1199.4,1054.8 L1204.6,1054.8 L1209.7,1056.1 L1214.9,1056.1 L1220.0,1047.5 L1225.2,1024.9 L1230.3,1003.2 L1235.5,997.8 L1240.7,1003.2 L1245.8,1007.3 L1251.0,1012.7 L1256.1,1021.4 L1261.3,1031.7 L1266.4,1036.3 L1271.6,1030.4 L1276.7,1018.2 L1281.9,1013.3 L1287.0,1019.8 L1292.2,1026.8 L1297.3,1024.1 L1302.5,1020.3 L1307.6,1028.2 L1312.8,1042.6 L1318.0,1048.0 L1323.1,1037.1 L1328.3,1020.9 L1333.4,1020.3 L1338.6,1032.5 L1343.7,1035.8 L1348.9,1021.4 L1354.0,1006.0 L1359.2,1008.1 L1364.3,1029.0 L1369.5,1045.3 L1374.6,1034.4 L1379.8,1013.3 L1384.9,1010.0 L1390.1,1027.7 L1395.3,1042.6 L1400.4,1033.9 L1405.6,1018.7 L1410.7,1020.9 L1415.9,1038.5 L1421.0,1043.1 L1426.2,1023.6 L1431.3,1006.2 L1436.5,1012.7 L1441.6,1035.8 L1446.8,1043.1 L1451.9,1027.7 L1457.1,1010.6 L1462.2,1011.4 L1467.4,1025.8 L1472.6,1030.4 L1477.7,1019.5 L1482.9,1011.9 L1488.0,1023.6 L1493.2,1042.6 L1499.9,1043.9 L1504.1,1023.6 L1509.2,1004.6 L1514.4,1008.9 L1519.5,1029.0 L1524.7,1038.5 L1529.8,1028.5 L1535.0,1018.7 L1540.1,1026.3 L1545.3,1042.8 L1550.4,1043.4 L1555.6,1027.7 L1560.8,1020.3 L1565.9,1031.7 L1571.1,1042.0 L1576.2,1031.2 L1581.4,1010.6 L1586.5,1003.5 L1591.7,1012.7 L1596.8,1022.2 L1602.0,1017.6 L1607.1,1010.6 L1612.3,1016.0 L1617.4,1032.5 L1622.6,1040.4 L1627.7,1029.0 L1632.9,1016.8 L1638.1,1022.8 L1643.2,1038.8 L1648.4,1039.0 L1653.5,1022.5 L1658.7,1016.0 L1663.8,1029.5 L1669.0,1043.4 L1674.1,1035.2 L1679.3,1016.0 L1684.4,1011.9 L1689.6,1027.7 L1694.7,1039.3 L1699.9,1034.4 L1705.0,1021.7 L1710.2,1020.3 L1715.4,1029.8 L1720.5,1033.9 L1725.7,1022.2 L1730.8,1010.8 L1736.0,1020.3 L1741.1,1039.0 L1746.3,1039.9 L1751.4,1022.2 L1756.6,1011.4 L1761.7,1020.9 L1766.9,1034.4 L1772.0,1033.1 L1777.2,1019.5 L1782.3,1012.7 L1787.5,1020.9 L1792.6,1029.5 L1797.8,1023.6 L1803.0,1013.5 L1808.1,1015.4 L1813.3,1031.2 L1818.4,1044.2 L1823.6,1036.6 L1828.7,1019.0 L1833.9,1013.5 L1839.0,1025.8 L1844.2,1038.0 L1849.3,1035.8 L1854.5,1024.9 L1859.6,1021.4 L1864.8,1029.0 L1869.9,1033.9 L1875.1,1029.5 L1880.3,1024.4 L1885.4,1027.7 L1890.6,1032.3 L1895.7,1026.3 L1900.9,1016.0 L1906.0,1013.3 L1911.2,1020.3 L1916.3,1027.9 L1921.5,1029.0 L1926.6,1024.9 L1931.8,1023.9 L1936.9,1027.7 L1942.1,1029.0 L1947.2,1023.0 L1952.4,1017.1 L1957.6,1017.6 L1962.7,1022.2 L1967.9,1024.9 L1973.0,1024.4 L1978.2,1026.8 L1983.3,1035.2 L1988.5,1039.9 L1993.6,1034.4 L1998.8,1024.4 L2003.9,1019.8 L2009.1,1023.6 L2014.2,1028.2 L2019.4,1026.3 L2024.5,1020.1 L2029.7,1019.0 L2034.9,1025.8 L2040.0,1031.2 L2045.2,1027.1 L2050.3,1020.9 L2055.5,1022.0 L2060.6,1031.7 L2065.8,1037.1 L2070.9,1029.0 L2076.1,1019.2 L2081.2,1022.0 L2086.4,1031.7 L2091.5,1033.9 L2096.7,1026.3 L2099.9,1021.7 L2104.0,1017.2 L2109.2,1020.6 L2112.3,1024.1"/>
<path stroke="#404040" d="M304.4,1137.2 L310.8,1131.8 L316.3,1139.3 L321.7,1147.5 L326.6,1144.0 L331.7,1138.0 L336.9,1140.2 L342.0,1139.9 L347.2,1135.8 L352.3,1134.5 L357.5,1137.5 L362.7,1142.1 L367.8,1145.0 L373.0,1144.5 L378.1,1140.2 L383.3,1135.3 L388.4,1133.4 L393.6,1135.3 L398.7,1137.2 L403.9,1139.3 L409.0,1141.5 L414.2,1140.7 L419.3,1133.9 L424.5,1128.2 L429.6,1132.6 L434.8,1140.7 L440.0,1143.1 L445.1,1140.2 L450.3,1139.9 L455.4,1142.1 L460.6,1140.7 L465.7,1135.8 L470.9,1133.1 L476.0,1135.8 L481.2,1137.5 L486.3,1134.7 L491.5,1135.8 L496.6,1142.1 L501.8,1142.1 L506.9,1136.6 L512.1,1133.1 L517.2,1132.6 L522.4,1135.8 L527.6,1140.2 L532.7,1139.9 L537.9,1137.5 L543.0,1137.2 L548.2,1136.1 L553.3,1131.8 L558.5,1130.9 L563.6,1138.5 L568.8,1142.1 L573.9,1135.8 L579.1,1134.2 L584.2,1140.2 L589.4,1138.8 L594.5,1132.6 L599.7,1135.3 L604.9,1142.3 L610.0,1142.9 L615.2,1141.5 L620.3,1142.1 L625.5,1140.7 L630.6,1137.2 L635.8,1134.7 L640.9,1133.9 L646.1,1134.5 L651.2,1136.6 L656.4,1138.8 L661.5,1139.3 L666.7,1135.8 L671.8,1135.3 L677.0,1140.7 L682.2,1140.2 L687.3,1134.5 L692.5,1138.0 L697.6,1146.9 L702.8,1142.9 L707.9,1133.1 L713.1,1136.9 L718.2,1147.2 L723.4,1144.0 L728.5,1134.7 L733.7,1135.8 L738.8,1142.1 L744.0,1144.8 L749.1,1140.7 L754.3,1132.6 L759.5,1130.4 L764.6,1135.8 L769.8,1140.2 L774.9,1141.5 L780.1,1143.4 L785.2,1140.2 L790.4,1132.6 L795.5,1132.8 L800.7,1140.2 L805.8,1140.2 L811.0,1136.6 L816.1,1138.5 L821.3,1140.7 L831.6,1139.3 L842.4,1137.5 L850.6,1136.6 L858.7,1133.4 L864.1,1138.0 L869.6,1142.9 L875.0,1140.2 L880.1,1132.6 L885.3,1130.7 L890.5,1133.9 L895.6,1136.6 L899.9,1136.4 L905.4,1135.9 L910.8,1134.8 L916.3,1134.8 L920.6,1140.2 L925.8,1154.3 L930.9,1163.3 L936.1,1157.3 L941.2,1136.7 L946.4,1123.7 L951.5,1124.2 L956.7,1126.1 L961.8,1125.3 L967.0,1129.4 L972.1,1137.0 L977.3,1136.7 L982.5,1131.3 L987.6,1134.2 L992.8,1139.7 L997.9,1129.4 L1003.1,1123.1 L1008.2,1138.9 L1013.4,1161.4 L1018.5,1157.8 L1023.7,1130.7 L1028.8,1113.6 L1034.0,1123.9 L1039.1,1150.5 L1044.3,1160.0 L1049.4,1144.3 L1054.6,1134.0 L1059.8,1137.0 L1064.9,1141.6 L1070.1,1138.0 L1075.2,1128.8 L1080.4,1129.1 L1085.5,1142.9 L1090.7,1148.9 L1095.8,1140.8 L1101.0,1138.3 L1106.1,1149.2 L1111.3,1146.2 L1116.4,1120.4 L1121.6,1106.3 L1126.7,1137.5 L1131.9,1189.0 L1137.6,1195.0 L1142.2,1142.9 L1147.4,1086.8 L1152.5,1087.3 L1157.7,1129.9 L1162.8,1145.6 L1168.0,1102.2 L1173.1,1077.8 L1178.3,1129.4 L1183.4,1196.6 L1188.6,1199.3 L1193.7,1153.8 L1198.9,1126.1 L1204.0,1145.6 L1209.2,1181.4 L1214.3,1186.3 L1219.5,1151.1 L1224.7,1115.8 L1229.8,1103.6 L1235.0,1110.4 L1240.1,1120.4 L1245.3,1125.3 L1250.4,1134.8 L1255.6,1150.5 L1260.7,1155.9 L1265.9,1144.8 L1271.0,1125.3 L1276.2,1111.7 L1281.3,1109.3 L1286.5,1108.5 L1291.6,1115.3 L1296.8,1144.3 L1302.0,1173.6 L1307.1,1180.9 L1312.3,1166.8 L1317.4,1145.6 L1322.6,1136.1 L1327.7,1151.1 L1332.9,1166.8 L1338.0,1151.1 L1343.2,1124.7 L1348.3,1113.1 L1353.5,1117.2 L1358.6,1118.5 L1363.8,1107.7 L1368.9,1100.9 L1374.1,1123.9 L1379.3,1157.8 L1384.4,1167.9 L1389.6,1148.3 L1394.7,1127.2 L1399.9,1123.9 L1405.0,1137.5 L1410.2,1150.2 L1415.3,1151.1 L1420.5,1146.2 L1425.6,1145.6 L1430.8,1148.3 L1435.9,1144.3 L1441.1,1134.2 L1446.2,1126.6 L1451.4,1127.2 L1456.6,1134.8 L1461.7,1141.8 L1466.9,1140.2 L1472.0,1128.8 L1477.2,1117.2 L1482.3,1114.4 L1487.5,1119.9 L1492.6,1128.0 L1499.9,1138.9 L1504.1,1147.0 L1509.2,1160.0 L1514.4,1163.8 L1519.5,1151.1 L1524.7,1136.1 L1529.8,1144.3 L1535.0,1163.8 L1540.1,1165.4 L1545.3,1147.0 L1550.4,1129.4 L1555.6,1124.7 L1560.8,1130.7 L1565.9,1129.4 L1571.1,1122.0 L1576.2,1118.5 L1581.4,1120.7 L1586.5,1130.4 L1591.7,1139.4 L1596.8,1131.3 L1602.0,1121.2 L1607.1,1129.9 L1612.3,1147.8 L1617.4,1155.7 L1622.6,1149.2 L1627.7,1137.0 L1632.9,1140.8 L1638.1,1157.3 L1643.2,1156.8 L1648.4,1132.1 L1653.5,1117.7 L1658.7,1132.1 L1663.8,1153.0 L1669.0,1151.1 L1674.1,1132.9 L1679.3,1128.5 L1684.4,1141.0 L1689.6,1142.4 L1694.7,1129.4 L1699.9,1126.9 L1705.0,1140.2 L1710.2,1154.0 L1715.4,1153.0 L1720.5,1140.2 L1725.7,1131.3 L1730.8,1134.2 L1736.0,1139.4 L1741.1,1132.1 L1746.3,1119.6 L1751.4,1119.3 L1756.6,1133.4 L1761.7,1145.1 L1766.9,1138.6 L1772.0,1126.6 L1777.2,1128.8 L1782.3,1142.4 L1787.5,1148.3 L1792.6,1145.6 L1797.8,1143.7 L1803.0,1148.3 L1808.1,1151.6 L1813.3,1150.2 L1818.4,1143.7 L1823.6,1135.9 L1828.7,1138.9 L1833.9,1149.2 L1839.0,1151.1 L1844.2,1140.2 L1849.3,1130.2 L1854.5,1129.4 L1859.6,1130.7 L1864.8,1123.4 L1869.9,1115.8 L1875.1,1126.6 L1880.3,1142.9 L1885.4,1145.1 L1890.6,1139.1 L1895.7,1138.9 L1900.9,1139.7 L1906.0,1135.3 L1911.2,1131.3 L1916.3,1132.1 L1921.5,1135.6 L1926.6,1138.9 L1931.8,1139.7 L1936.9,1138.3 L1942.1,1138.3 L1947.2,1145.6 L1952.4,1155.9 L1957.6,1153.2 L1962.7,1134.8 L1967.9,1123.9 L1973.0,1130.2 L1978.2,1132.1 L1983.3,1125.8 L1988.5,1129.4 L1993.6,1140.2 L1998.8,1147.0 L2003.9,1148.9 L2009.1,1141.6 L2014.2,1132.6 L2019.4,1134.0 L2024.5,1140.8 L2029.7,1137.5 L2034.9,1127.2 L2040.0,1127.7 L2045.2,1141.0 L2050.3,1148.3 L2055.5,1143.7 L2060.6,1138.9 L2065.8,1137.0 L2070.9,1136.1 L2076.1,1133.4 L2081.2,1128.0 L2086.4,1124.5 L2091.5,1129.4 L2096.7,1134.8 L2099.9,1136.1 L2103.4,1134.5 L2107.7,1136.3 L2112.3,1142.6"/>
<path stroke="#404040" d="M304.4,1250.0 L381.4,1250.3 L462.7,1249.7 L544.1,1250.0 L625.5,1249.5 L706.8,1249.7 L788.2,1249.5 L899.9,1249.5 L908.1,1250.1 L919.0,1249.8 L929.8,1250.9 L935.3,1249.8 L940.4,1244.6 L945.0,1241.9 L950.2,1248.7 L955.3,1256.3 L960.5,1273.9 L965.6,1275.8 L970.8,1257.6 L975.9,1239.2 L981.1,1235.1 L986.2,1239.7 L991.4,1235.1 L996.6,1232.4 L1001.7,1248.2 L1006.9,1267.7 L1012.0,1270.4 L1017.2,1250.9 L1022.3,1230.5 L1027.5,1237.8 L1032.6,1253.6 L1037.8,1250.9 L1042.9,1237.8 L1048.1,1237.3 L1053.2,1254.9 L1058.4,1276.6 L1063.5,1265.8 L1068.7,1240.0 L1073.9,1234.6 L1079.0,1255.5 L1084.2,1265.8 L1089.3,1252.2 L1094.5,1235.7 L1099.6,1236.2 L1104.8,1259.8 L1109.9,1267.1 L1115.1,1248.7 L1120.2,1230.5 L1125.4,1248.7 L1130.5,1276.1 L1135.7,1283.4 L1140.8,1260.4 L1146.0,1241.9 L1151.2,1246.8 L1156.3,1257.1 L1161.5,1237.8 L1166.6,1199.9 L1171.8,1188.5 L1176.9,1220.2 L1182.1,1270.7 L1187.2,1292.9 L1192.4,1271.2 L1197.5,1254.9 L1202.7,1259.0 L1207.8,1264.2 L1213.0,1259.5 L1218.1,1253.6 L1223.3,1249.2 L1228.5,1246.8 L1233.6,1241.9 L1238.8,1232.4 L1243.9,1233.0 L1249.1,1249.5 L1254.2,1270.4 L1259.4,1267.1 L1264.5,1244.6 L1269.7,1237.3 L1274.8,1254.1 L1280.0,1263.6 L1285.1,1247.3 L1290.3,1224.3 L1295.4,1223.5 L1300.6,1246.0 L1305.7,1265.0 L1310.9,1263.1 L1316.1,1250.1 L1321.2,1250.6 L1326.4,1263.9 L1331.5,1266.3 L1336.7,1252.8 L1341.8,1238.7 L1347.0,1251.4 L1352.1,1266.6 L1357.3,1261.7 L1362.4,1235.1 L1367.6,1221.6 L1372.7,1234.6 L1377.9,1258.5 L1383.0,1265.8 L1388.2,1254.1 L1393.4,1244.6 L1398.5,1254.1 L1403.7,1264.4 L1408.8,1252.2 L1414.0,1241.1 L1419.1,1240.6 L1424.3,1254.9 L1429.4,1261.2 L1434.6,1250.9 L1439.7,1231.1 L1444.9,1233.2 L1450.0,1254.9 L1455.2,1269.3 L1460.3,1254.9 L1465.5,1242.2 L1470.7,1241.1 L1475.8,1252.2 L1481.0,1255.7 L1486.1,1247.3 L1491.3,1239.2 L1496.4,1244.6 L1499.9,1251.4 L1502.7,1257.6 L1507.9,1256.8 L1513.0,1247.3 L1518.2,1245.2 L1523.3,1253.6 L1528.5,1259.5 L1533.6,1250.9 L1538.8,1238.7 L1543.9,1239.7 L1549.1,1255.5 L1554.2,1265.0 L1559.4,1260.4 L1564.6,1252.0 L1569.7,1251.1 L1574.9,1253.3 L1580.0,1250.6 L1585.2,1242.5 L1590.3,1238.1 L1595.5,1242.5 L1600.6,1247.1 L1605.8,1243.8 L1610.9,1238.7 L1616.1,1241.4 L1621.2,1251.4 L1626.4,1255.5 L1631.5,1252.2 L1636.7,1250.6 L1641.8,1256.8 L1647.0,1263.1 L1652.2,1258.2 L1657.3,1246.0 L1662.5,1239.5 L1667.6,1243.8 L1672.8,1252.8 L1677.9,1254.9 L1683.1,1250.6 L1688.2,1249.8 L1693.4,1254.9 L1698.5,1258.7 L1703.7,1252.2 L1708.8,1243.5 L1714.0,1242.5 L1719.1,1250.1 L1724.3,1254.9 L1729.5,1250.9 L1734.6,1244.1 L1739.8,1244.1 L1744.9,1250.9 L1750.1,1255.7 L1755.2,1253.6 L1760.4,1247.9 L1765.5,1246.8 L1770.7,1250.1 L1775.8,1251.4 L1781.0,1248.2 L1786.1,1246.0 L1791.3,1247.9 L1796.4,1250.9 L1801.6,1250.3 L1806.8,1246.0 L1811.9,1243.8 L1817.1,1246.8 L1822.2,1251.4 L1827.4,1252.5 L1832.5,1250.9 L1837.7,1250.6 L1842.8,1252.5 L1848.0,1253.3 L1853.1,1252.2 L1858.3,1250.9 L1863.4,1251.7 L1868.6,1252.0 L1873.7,1250.3 L1878.9,1247.9 L1884.1,1248.4 L1889.2,1253.3 L1894.4,1256.3 L1899.5,1254.9 L1904.7,1250.3 L1909.8,1248.2 L1915.0,1249.0 L1920.1,1248.7 L1925.3,1246.5 L1930.4,1245.2 L1935.6,1246.3 L1940.7,1247.3 L1945.9,1246.5 L1951.0,1245.4 L1956.2,1247.1 L1961.4,1250.6 L1966.5,1252.2 L1971.7,1249.5 L1976.8,1246.0 L1982.0,1246.8 L1987.1,1252.2 L1992.3,1256.8 L1997.4,1256.0 L2002.6,1252.2 L2007.7,1250.6 L2012.9,1251.4 L2018.0,1252.0 L2023.2,1250.3 L2028.3,1248.7 L2033.5,1249.8 L2038.6,1252.0 L2043.8,1251.4 L2049.0,1248.4 L2054.1,1246.5 L2059.3,1247.9 L2064.4,1250.1 L2069.6,1250.1 L2074.7,1248.7 L2079.9,1248.7 L2085.0,1250.6 L2090.2,1252.0 L2095.3,1250.6 L2099.9,1248.2 L2106.0,1249.0 L2112.3,1249.5"/>
<path stroke="#404040" d="M304.4,1362.6 L335.3,1363.1 L373.2,1362.0 L389.5,1363.4 L430.2,1361.5 L443.7,1359.9 L462.7,1361.8 L484.4,1363.7 L511.6,1362.3 L530.5,1360.9 L560.4,1362.0 L576.6,1361.2 L598.3,1365.0 L611.9,1369.1 L619.0,1369.3 L625.5,1364.5 L633.6,1357.7 L640.4,1355.0 L647.2,1357.7 L658.0,1364.5 L664.8,1366.4 L671.6,1363.1 L679.7,1356.3 L686.5,1353.3 L693.3,1356.3 L701.4,1363.1 L708.2,1368.5 L713.6,1368.8 L720.4,1363.7 L728.5,1358.2 L734.0,1357.1 L740.7,1359.9 L747.5,1363.1 L755.7,1364.5 L766.5,1362.3 L777.4,1357.7 L784.1,1357.7 L790.9,1363.1 L799.1,1368.0 L809.6,1368.5 L818.0,1369.1 L826.2,1372.3 L833.0,1373.1 L839.7,1371.2 L847.9,1365.8 L858.7,1361.2 L869.6,1357.1 L876.3,1355.5 L881.8,1356.3 L887.2,1359.9 L891.3,1362.0 L896.7,1359.9 L899.9,1357.1 L904.1,1350.9 L909.2,1343.5 L914.4,1341.4 L919.5,1348.1 L924.7,1359.8 L929.8,1366.6 L935.0,1363.6 L940.1,1357.1 L945.3,1357.6 L950.4,1365.8 L955.6,1373.9 L960.8,1373.4 L965.9,1369.3 L971.1,1371.2 L976.2,1383.4 L980.8,1391.5 L986.0,1382.9 L991.1,1364.4 L996.3,1353.0 L1001.4,1359.8 L1006.6,1373.9 L1011.7,1377.4 L1016.9,1369.3 L1022.1,1361.7 L1027.2,1360.9 L1032.4,1360.4 L1037.5,1352.2 L1042.7,1339.5 L1047.8,1338.9 L1053.0,1353.6 L1058.1,1365.2 L1063.3,1359.0 L1068.4,1342.7 L1073.6,1340.0 L1078.7,1352.2 L1083.9,1364.4 L1089.0,1361.7 L1094.2,1349.0 L1099.3,1342.7 L1104.5,1349.5 L1109.7,1362.5 L1114.8,1367.9 L1120.0,1369.8 L1125.1,1383.4 L1130.3,1410.5 L1135.4,1423.5 L1140.6,1408.6 L1145.7,1373.9 L1150.9,1346.8 L1156.0,1334.6 L1161.2,1330.5 L1166.3,1322.4 L1171.5,1317.0 L1176.6,1327.8 L1181.8,1350.9 L1187.0,1373.9 L1192.1,1374.5 L1197.3,1365.2 L1202.4,1367.1 L1207.6,1382.6 L1212.7,1392.4 L1217.9,1382.1 L1223.0,1361.7 L1228.2,1357.1 L1233.3,1372.6 L1238.5,1383.4 L1243.6,1377.4 L1248.8,1359.8 L1253.9,1351.4 L1259.1,1359.0 L1264.3,1370.4 L1269.4,1367.9 L1274.6,1353.0 L1279.7,1341.9 L1284.9,1345.4 L1290.0,1352.8 L1295.2,1354.4 L1300.3,1351.7 L1305.5,1353.0 L1310.6,1362.5 L1315.8,1372.0 L1320.9,1371.7 L1326.1,1367.1 L1331.2,1366.6 L1336.4,1371.2 L1341.6,1373.4 L1346.7,1365.8 L1351.9,1356.3 L1357.0,1353.6 L1362.2,1355.5 L1367.3,1356.6 L1372.5,1352.2 L1377.6,1348.1 L1382.8,1352.2 L1387.9,1363.1 L1393.1,1371.2 L1398.2,1369.3 L1403.4,1361.7 L1408.5,1359.0 L1413.7,1365.2 L1418.9,1370.4 L1424.0,1364.4 L1429.2,1356.8 L1434.3,1355.7 L1439.5,1364.4 L1444.6,1373.9 L1449.8,1374.7 L1454.9,1367.9 L1460.1,1362.5 L1465.2,1362.3 L1470.4,1361.2 L1475.5,1353.6 L1480.7,1344.1 L1485.8,1342.7 L1491.0,1350.9 L1496.1,1357.6 L1499.9,1358.5 L1502.7,1359.0 L1507.9,1354.9 L1513.0,1357.1 L1518.2,1365.2 L1523.3,1371.2 L1528.5,1367.7 L1533.6,1363.1 L1538.8,1368.5 L1543.9,1382.1 L1549.1,1390.2 L1554.2,1385.6 L1559.4,1372.6 L1564.6,1367.1 L1569.7,1369.3 L1574.9,1369.8 L1580.0,1362.3 L1585.2,1354.4 L1590.3,1352.2 L1595.5,1354.9 L1600.6,1356.0 L1605.8,1352.2 L1610.9,1348.4 L1616.1,1350.3 L1621.2,1355.7 L1626.4,1357.6 L1631.5,1354.9 L1636.7,1352.8 L1641.8,1357.6 L1647.0,1363.9 L1652.2,1364.4 L1657.3,1359.0 L1662.5,1356.0 L1667.6,1361.7 L1672.8,1369.6 L1677.9,1370.7 L1683.1,1365.2 L1688.2,1362.5 L1693.4,1367.1 L1698.5,1372.8 L1703.7,1372.6 L1708.8,1366.6 L1714.0,1361.7 L1719.1,1362.3 L1724.3,1363.9 L1729.5,1362.5 L1734.6,1357.6 L1739.8,1354.9 L1744.9,1359.0 L1750.1,1365.2 L1755.2,1367.7 L1760.4,1365.0 L1765.5,1362.3 L1770.7,1363.1 L1775.8,1364.1 L1781.0,1360.4 L1786.1,1353.6 L1791.3,1351.4 L1796.4,1356.3 L1801.6,1362.3 L1806.8,1363.6 L1811.9,1360.9 L1817.1,1359.0 L1822.2,1359.5 L1827.4,1360.1 L1832.5,1357.1 L1837.7,1353.6 L1842.8,1354.4 L1848.0,1360.4 L1853.1,1365.8 L1858.3,1365.8 L1863.4,1362.8 L1868.6,1363.1 L1873.7,1367.9 L1878.9,1372.0 L1884.1,1370.7 L1889.2,1366.6 L1894.4,1365.8 L1899.5,1369.3 L1904.7,1370.9 L1909.8,1367.4 L1915.0,1362.5 L1920.1,1360.6 L1925.3,1362.3 L1930.4,1363.9 L1935.6,1363.3 L1940.7,1362.3 L1945.9,1362.0 L1951.0,1362.5 L1956.2,1361.4 L1961.4,1358.2 L1966.5,1354.9 L1971.7,1354.4 L1976.8,1356.0 L1982.0,1356.3 L1987.1,1354.7 L1992.3,1354.1 L1997.4,1357.6 L2002.6,1361.7 L2007.7,1362.8 L2012.9,1361.7 L2018.0,1361.4 L2023.2,1363.9 L2028.3,1366.9 L2033.5,1368.8 L2038.6,1369.3 L2043.8,1369.0 L2049.0,1368.8 L2054.1,1367.7 L2059.3,1365.2 L2064.4,1362.5 L2069.6,1361.2 L2074.7,1361.4 L2079.9,1361.7 L2085.0,1361.2 L2090.2,1360.6 L2095.3,1360.4 L2099.9,1360.4 L2107.7,1360.2 L2112.3,1358.6"/>
<path stroke="#0000ff" d="M304.4,240.9 L310.8,238.7 L319.0,242.0 L325.8,243.1 L333.9,242.0 L340.7,239.5 L346.1,239.0 L354.2,242.3 L361.0,243.1 L370.5,240.6 L380.0,242.3 L390.9,240.4 L403.1,243.3 L411.2,241.2 L418.5,237.9 L424.8,240.9 L430.2,244.4 L434.3,244.4 L439.7,240.4 L444.6,238.5 L454.6,242.8 L465.4,240.6 L475.8,243.1 L487.1,241.2 L499.3,242.3 L517.0,242.5 L529.2,239.3 L533.3,239.8 L542.7,244.1 L553.6,239.8 L559.0,239.5 L568.5,242.5 L580.7,241.2 L594.3,242.8 L605.1,239.3 L614.6,243.3 L625.5,239.8 L636.3,242.0 L649.9,240.6 L663.4,241.2 L677.0,240.9 L687.8,242.3 L701.4,240.6 L720.4,242.0 L736.7,240.6 L747.5,241.2 L759.7,239.0 L770.6,243.1 L774.6,243.1 L781.4,239.3 L786.8,238.7 L796.3,242.8 L809.9,240.9 L820.7,240.6 L834.3,242.5 L850.6,241.2 L862.8,242.5 L879.1,240.4 L899.9,242.3 L914.9,243.1 L927.1,240.9 L932.5,242.3 L940.7,240.1 L951.5,242.0 L961.0,241.4 L971.1,242.3 L978.7,240.6 L987.3,242.0 L997.1,239.8 L1008.5,241.7 L1018.5,240.1 L1030.2,241.2 L1051.9,241.2 L1068.2,242.0 L1079.5,239.5 L1089.9,241.4 L1100.7,240.6 L1108.8,240.9 L1116.2,239.3 L1121.6,241.2 L1126.7,250.4 L1131.9,265.0 L1137.0,269.1 L1142.2,253.4 L1147.4,235.7 L1152.5,229.8 L1157.7,233.6 L1162.8,232.2 L1168.0,215.1 L1173.1,205.1 L1178.3,225.4 L1183.4,258.8 L1188.6,266.7 L1193.7,242.5 L1198.9,219.2 L1204.0,225.7 L1209.2,251.2 L1214.3,256.6 L1219.5,234.9 L1224.7,222.5 L1229.8,242.0 L1235.2,263.7 L1240.4,259.9 L1245.5,240.1 L1250.7,233.8 L1255.8,241.7 L1261.0,242.5 L1266.2,231.9 L1271.3,229.0 L1276.5,244.4 L1281.6,259.3 L1286.8,251.7 L1291.9,228.7 L1297.1,222.7 L1302.2,240.9 L1307.4,259.3 L1312.8,269.1 L1318.0,268.8 L1323.1,263.7 L1328.3,258.8 L1333.1,248.5 L1338.3,218.7 L1343.4,186.7 L1348.9,179.9 L1354.0,203.7 L1359.2,234.9 L1364.3,254.5 L1369.5,255.5 L1374.6,249.6 L1379.8,258.5 L1384.9,274.3 L1390.1,268.0 L1395.3,247.9 L1400.4,238.5 L1405.6,241.2 L1411.0,243.6 L1416.1,234.7 L1421.3,223.3 L1426.4,224.4 L1431.6,238.7 L1436.8,252.6 L1441.9,249.6 L1447.1,238.7 L1452.2,239.0 L1457.4,246.0 L1462.5,240.9 L1467.7,221.4 L1472.8,210.5 L1478.0,221.9 L1483.1,245.8 L1488.3,257.7 L1493.4,254.2 L1498.6,248.5 L1500.0,247.9 L1508.1,247.7 L1514.9,247.1 L1519.0,248.5 L1524.4,252.6 L1529.6,255.3 L1534.7,248.5 L1539.9,234.9 L1545.0,228.4 L1550.2,230.9 L1555.3,234.1 L1560.5,233.6 L1565.6,232.2 L1570.8,234.9 L1575.9,243.1 L1581.1,250.9 L1586.2,246.6 L1591.4,235.5 L1596.6,234.9 L1601.7,245.8 L1606.9,252.8 L1612.0,246.6 L1617.2,233.6 L1622.3,227.3 L1627.5,237.6 L1632.6,254.7 L1638.1,258.8 L1643.2,245.8 L1648.4,234.1 L1653.5,236.8 L1658.7,245.8 L1663.8,244.4 L1669.0,232.2 L1674.1,223.3 L1679.3,228.7 L1684.4,240.4 L1689.6,242.5 L1694.7,239.0 L1699.9,238.7 L1705.0,242.0 L1710.2,243.9 L1715.4,242.8 L1720.5,242.5 L1725.7,247.7 L1730.8,255.0 L1736.0,257.4 L1741.1,253.4 L1746.3,249.0 L1751.4,245.8 L1756.6,241.4 L1761.7,232.2 L1766.9,226.5 L1772.0,228.7 L1777.2,232.2 L1782.3,229.2 L1787.5,225.7 L1792.6,231.7 L1797.8,242.3 L1803.0,244.7 L1808.1,240.4 L1813.3,242.0 L1818.4,253.4 L1823.8,261.2 L1829.0,253.4 L1834.1,240.4 L1839.3,235.5 L1844.5,239.8 L1849.6,243.3 L1854.8,241.2 L1859.9,237.9 L1865.1,240.4 L1870.2,245.2 L1875.4,245.5 L1880.5,239.3 L1885.7,235.5 L1890.8,239.0 L1896.0,243.6 L1901.1,243.1 L1906.3,239.8 L1911.4,240.6 L1916.6,245.2 L1921.8,247.1 L1926.9,242.5 L1932.1,237.6 L1937.2,240.4 L1942.4,245.2 L1947.5,242.8 L1952.7,233.8 L1957.8,231.9 L1963.0,241.2 L1968.4,249.0 L1973.6,244.7 L1978.7,235.5 L1983.9,235.5 L1989.0,242.3 L1994.2,243.3 L1999.3,236.3 L2004.5,232.2 L2009.6,237.6 L2014.8,245.8 L2019.9,246.0 L2025.1,239.8 L2030.2,237.6 L2035.4,244.4 L2040.8,249.0 L2046.0,243.6 L2051.1,237.1 L2056.3,238.2 L2061.4,244.4 L2066.6,247.9 L2071.7,246.6 L2076.9,244.4 L2082.0,245.2 L2087.2,246.9 L2092.4,244.1 L2097.5,237.6 L2099.9,235.7 L2102.8,233.8 L2107.5,236.5 L2112.3,239.3"/>
<path stroke="#808080" d="M304.4,1474.2 L324.4,1474.8 L343.4,1474.2 L358.3,1472.3 L369.2,1475.0 L384.1,1473.7 L399.0,1472.9 L416.6,1474.5 L430.2,1472.9 L451.9,1473.1 L469.5,1475.0 L488.5,1472.3 L503.4,1474.0 L522.4,1475.0 L544.1,1473.1 L568.5,1473.4 L587.5,1474.5 L606.5,1472.9 L622.8,1473.1 L636.3,1474.8 L663.4,1474.0 L674.3,1472.3 L687.8,1475.3 L704.1,1473.7 L723.1,1473.1 L736.7,1475.0 L752.9,1472.9 L765.1,1474.8 L777.4,1472.6 L788.2,1474.2 L801.8,1473.1 L831.6,1473.4 L849.2,1472.6 L864.1,1475.6 L880.4,1472.6 L899.9,1473.7 L924.4,1474.8 L938.0,1473.4 L954.2,1474.0 L970.5,1475.0 L984.1,1472.6 L1003.1,1474.2 L1016.6,1472.6 L1030.2,1473.1 L1047.8,1472.3 L1062.7,1473.4 L1077.7,1471.8 L1095.3,1472.6 L1114.3,1472.9 L1121.6,1480.7 L1124.0,1487.0 L1129.2,1508.7 L1133.8,1524.1 L1138.9,1510.0 L1144.1,1472.1 L1149.3,1440.9 L1154.1,1442.5 L1159.3,1454.7 L1164.4,1450.4 L1169.6,1438.7 L1175.0,1451.2 L1180.2,1482.4 L1185.3,1496.5 L1190.5,1484.5 L1195.6,1463.1 L1200.8,1458.0 L1205.9,1474.8 L1211.4,1489.7 L1216.5,1478.0 L1221.7,1460.1 L1226.8,1466.1 L1232.0,1492.7 L1237.1,1499.7 L1242.3,1474.8 L1247.4,1451.7 L1252.6,1462.0 L1257.7,1481.5 L1262.9,1479.6 L1268.0,1467.4 L1273.2,1468.8 L1278.4,1480.2 L1283.5,1483.4 L1288.7,1474.2 L1293.8,1462.0 L1299.0,1462.3 L1304.1,1491.0 L1309.5,1520.9 L1314.7,1514.1 L1319.9,1484.8 L1325.0,1475.3 L1330.2,1484.5 L1335.3,1487.2 L1340.5,1465.3 L1345.6,1425.9 L1350.8,1412.1 L1355.9,1420.0 L1361.1,1434.1 L1366.2,1445.7 L1371.4,1461.7 L1376.5,1485.6 L1381.7,1514.9 L1386.8,1531.7 L1392.0,1515.4 L1397.2,1482.1 L1402.3,1476.7 L1407.5,1495.1 L1412.6,1499.7 L1417.8,1474.8 L1422.9,1447.6 L1428.1,1440.9 L1433.2,1451.7 L1438.4,1470.2 L1443.5,1481.5 L1448.7,1480.7 L1453.8,1474.2 L1459.0,1467.2 L1464.1,1456.9 L1469.6,1446.0 L1475.0,1445.5 L1480.1,1463.9 L1485.3,1485.6 L1490.5,1494.6 L1495.6,1489.1 L1500.0,1479.6 L1505.4,1475.6 L1510.8,1480.7 L1516.0,1486.4 L1521.2,1492.1 L1526.3,1497.8 L1531.7,1494.3 L1536.9,1474.8 L1541.5,1453.1 L1547.2,1444.9 L1552.1,1455.0 L1557.2,1466.1 L1562.4,1469.3 L1567.5,1471.5 L1572.7,1479.6 L1578.1,1489.1 L1583.0,1485.6 L1588.1,1468.5 L1593.6,1461.5 L1598.7,1475.6 L1603.9,1492.4 L1609.0,1490.5 L1614.2,1465.8 L1619.3,1447.6 L1624.5,1461.2 L1629.6,1489.1 L1634.8,1499.2 L1640.0,1484.5 L1645.1,1469.6 L1650.3,1474.0 L1655.4,1484.5 L1660.8,1477.5 L1666.0,1453.6 L1670.9,1439.0 L1676.3,1446.8 L1681.4,1465.8 L1686.6,1475.9 L1691.8,1473.7 L1696.9,1475.0 L1702.1,1484.3 L1707.2,1486.2 L1712.4,1470.7 L1717.5,1458.5 L1722.7,1471.0 L1727.8,1497.0 L1733.0,1508.7 L1738.1,1494.3 L1743.3,1478.0 L1748.4,1479.1 L1753.6,1491.6 L1758.7,1485.1 L1763.9,1456.3 L1769.1,1438.4 L1774.2,1445.5 L1779.4,1461.2 L1784.5,1463.1 L1789.7,1449.5 L1794.8,1445.5 L1800.0,1467.2 L1805.1,1492.9 L1810.3,1498.6 L1815.4,1484.8 L1820.6,1477.5 L1825.7,1486.2 L1830.9,1493.8 L1836.3,1482.9 L1841.5,1465.5 L1846.6,1460.4 L1851.8,1472.6 L1856.9,1482.9 L1862.1,1477.5 L1867.2,1465.3 L1872.4,1466.9 L1877.5,1481.8 L1882.7,1489.1 L1887.8,1477.5 L1893.0,1462.6 L1898.2,1461.2 L1903.3,1472.1 L1908.5,1479.1 L1913.6,1475.6 L1918.8,1471.5 L1923.9,1476.7 L1929.1,1486.2 L1934.2,1486.4 L1939.4,1476.1 L1944.5,1465.8 L1949.7,1464.5 L1954.8,1470.7 L1960.0,1473.7 L1965.1,1469.9 L1970.3,1465.8 L1975.5,1468.0 L1980.6,1471.5 L1985.8,1469.3 L1990.9,1465.0 L1996.1,1465.8 L2001.2,1473.7 L2006.4,1480.7 L2011.5,1480.2 L2016.7,1477.5 L2021.8,1478.3 L2027.0,1481.0 L2032.1,1480.2 L2037.3,1475.6 L2042.4,1472.1 L2047.9,1474.0 L2053.0,1476.9 L2058.2,1476.7 L2063.3,1474.2 L2068.5,1474.8 L2073.6,1478.8 L2079.1,1481.5 L2084.2,1478.8 L2089.4,1474.8 L2094.5,1472.1 L2099.9,1471.5 L2103.4,1471.1 L2107.7,1468.3 L2112.3,1464.5"/>
<path stroke="#808080" d="M304.4,1469.1 L309.5,1470.2 L314.9,1476.1 L319.5,1479.7 L325.8,1477.5 L331.2,1474.0 L336.6,1472.6 L347.5,1475.9 L351.5,1475.6 L361.0,1471.5 L373.2,1476.7 L378.7,1477.0 L386.8,1472.1 L392.2,1470.4 L402.5,1475.6 L413.9,1472.9 L427.5,1473.2 L438.3,1477.0 L443.7,1477.2 L454.1,1469.6 L458.7,1471.3 L464.9,1476.7 L469.5,1476.7 L476.3,1473.4 L489.9,1472.9 L503.4,1474.0 L517.0,1471.5 L531.9,1477.8 L536.0,1476.7 L542.7,1472.1 L548.2,1471.5 L561.7,1475.6 L567.2,1475.6 L577.2,1470.4 L583.4,1474.0 L588.9,1478.6 L592.9,1477.8 L599.7,1472.6 L603.8,1471.3 L614.6,1475.9 L620.0,1476.1 L629.5,1471.8 L636.3,1470.4 L649.9,1474.5 L666.2,1474.5 L679.7,1471.8 L691.9,1476.7 L697.3,1477.5 L708.2,1473.2 L717.7,1475.1 L728.0,1471.5 L739.4,1476.7 L751.6,1472.3 L758.4,1471.8 L769.2,1474.0 L785.5,1474.0 L805.8,1472.9 L816.7,1477.8 L826.2,1472.1 L836.5,1475.3 L853.3,1472.3 L866.9,1476.7 L877.7,1470.4 L888.6,1475.3 L899.9,1472.1 L904.1,1471.3 L913.6,1475.1 L924.4,1472.9 L935.3,1472.3 L940.7,1473.2 L945.6,1475.9 L950.7,1484.8 L955.6,1492.4 L960.2,1497.6 L965.4,1491.6 L970.5,1472.1 L975.7,1452.8 L980.8,1448.5 L986.0,1456.3 L991.1,1465.8 L996.3,1476.1 L1001.4,1485.9 L1006.6,1483.5 L1011.7,1474.5 L1016.9,1469.6 L1022.1,1466.4 L1027.2,1468.0 L1032.4,1476.1 L1037.5,1474.5 L1042.7,1462.3 L1047.8,1459.9 L1053.0,1470.7 L1058.1,1481.3 L1063.3,1482.4 L1068.4,1475.9 L1073.6,1468.8 L1078.7,1469.1 L1083.9,1477.5 L1089.0,1479.9 L1094.2,1471.8 L1099.3,1468.0 L1104.5,1476.7 L1109.7,1485.4 L1114.8,1484.8 L1120.0,1483.5 L1125.1,1491.6 L1130.3,1505.2 L1135.4,1510.3 L1140.6,1498.4 L1145.7,1476.7 L1150.9,1455.8 L1156.0,1439.3 L1161.2,1427.9 L1166.3,1417.0 L1171.5,1412.1 L1176.6,1430.6 L1181.8,1471.3 L1187.0,1509.2 L1192.1,1523.3 L1197.3,1513.3 L1202.4,1502.2 L1207.6,1502.2 L1212.7,1502.7 L1217.9,1493.5 L1223.0,1478.0 L1228.2,1457.7 L1233.3,1442.0 L1238.5,1443.0 L1243.6,1455.0 L1248.8,1463.9 L1253.9,1468.5 L1259.1,1472.9 L1264.3,1477.5 L1269.4,1476.7 L1274.6,1470.4 L1279.7,1465.3 L1284.9,1467.2 L1290.0,1474.0 L1295.2,1478.0 L1300.3,1477.2 L1305.5,1476.7 L1310.6,1482.1 L1315.8,1488.1 L1320.9,1486.4 L1326.1,1477.5 L1331.2,1468.5 L1336.4,1469.9 L1341.6,1476.7 L1346.7,1474.8 L1351.9,1465.0 L1357.0,1463.1 L1362.2,1472.6 L1367.3,1481.6 L1372.5,1478.0 L1377.6,1468.0 L1382.8,1466.4 L1387.9,1475.9 L1393.1,1482.9 L1398.2,1479.4 L1403.4,1474.0 L1408.5,1476.7 L1413.7,1483.5 L1418.9,1482.1 L1424.0,1471.8 L1429.2,1463.9 L1434.3,1465.3 L1439.5,1476.7 L1444.6,1484.3 L1449.8,1479.4 L1454.9,1466.4 L1460.1,1462.3 L1465.2,1468.0 L1470.4,1471.3 L1475.5,1468.0 L1480.7,1465.3 L1485.8,1471.3 L1491.0,1482.1 L1496.1,1486.2 L1500.0,1484.8 L1503.3,1482.1 L1508.4,1470.2 L1513.6,1463.7 L1518.7,1465.3 L1523.9,1472.9 L1529.0,1478.0 L1534.2,1480.7 L1539.3,1483.5 L1544.5,1486.4 L1549.6,1485.9 L1554.8,1481.8 L1559.9,1479.4 L1565.1,1479.4 L1570.2,1477.8 L1575.4,1470.7 L1580.6,1463.1 L1585.7,1459.3 L1590.9,1460.4 L1596.0,1462.0 L1601.2,1460.4 L1606.3,1460.9 L1611.5,1469.1 L1616.6,1476.7 L1621.8,1480.2 L1626.9,1482.1 L1632.1,1481.0 L1637.2,1476.1 L1642.4,1474.5 L1647.5,1477.5 L1652.7,1478.0 L1657.9,1476.1 L1663.0,1475.6 L1668.2,1477.2 L1673.3,1477.5 L1678.5,1476.1 L1683.6,1473.4 L1688.8,1470.2 L1693.9,1469.9 L1699.1,1474.0 L1704.2,1478.0 L1709.4,1479.4 L1714.5,1479.9 L1719.7,1479.4 L1724.8,1477.5 L1730.0,1474.5 L1735.2,1471.3 L1740.3,1470.7 L1745.5,1474.8 L1750.6,1476.7 L1755.8,1472.6 L1760.9,1468.0 L1766.1,1469.9 L1771.2,1474.0 L1776.4,1472.9 L1781.5,1468.0 L1786.7,1465.0 L1791.8,1465.6 L1797.0,1468.3 L1802.1,1467.7 L1807.3,1465.3 L1812.4,1470.4 L1817.6,1480.7 L1822.8,1484.8 L1827.9,1479.4 L1833.1,1475.1 L1838.2,1475.1 L1843.4,1478.3 L1848.5,1480.5 L1853.7,1477.2 L1858.8,1473.2 L1864.0,1472.3 L1869.1,1472.9 L1874.3,1475.3 L1879.4,1479.4 L1884.6,1482.1 L1889.7,1480.7 L1894.9,1475.1 L1900.1,1469.4 L1905.2,1467.2 L1910.4,1470.4 L1915.5,1473.4 L1920.7,1472.3 L1925.8,1469.9 L1931.0,1471.3 L1936.1,1475.3 L1941.3,1474.5 L1946.4,1470.7 L1951.6,1468.0 L1956.7,1467.2 L1961.9,1468.5 L1967.0,1471.8 L1972.2,1474.5 L1977.4,1477.2 L1982.5,1481.0 L1987.7,1484.8 L1992.8,1484.3 L1998.0,1479.4 L2003.1,1474.5 L2008.3,1472.1 L2013.4,1472.9 L2018.6,1473.4 L2023.7,1471.3 L2028.9,1470.2 L2034.0,1471.8 L2039.2,1474.5 L2044.3,1476.1 L2049.5,1474.5 L2054.7,1471.8 L2059.8,1472.6 L2065.0,1476.1 L2070.1,1476.1 L2075.3,1471.8 L2080.4,1469.1 L2085.6,1473.2 L2090.7,1480.7 L2095.9,1481.6 L2099.9,1475.3 L2101.9,1474.0 L2107.7,1469.0 L2112.3,1470.5"/>
<path stroke="#808080" d="M304.4,1474.4 L316.3,1473.3 L329.8,1475.2 L340.7,1473.3 L354.2,1473.9 L367.8,1474.4 L381.4,1473.0 L394.9,1474.1 L408.5,1472.5 L423.4,1475.8 L438.3,1472.8 L451.9,1474.4 L476.3,1473.0 L487.1,1474.9 L496.6,1472.0 L510.2,1474.9 L525.1,1473.0 L544.1,1473.9 L559.0,1472.8 L579.4,1474.9 L591.6,1472.5 L606.5,1474.4 L614.6,1473.3 L626.8,1476.0 L639.0,1472.0 L652.6,1473.6 L660.7,1473.0 L685.1,1474.7 L698.7,1472.5 L710.9,1475.2 L721.8,1472.5 L735.3,1475.8 L746.2,1471.4 L761.1,1474.7 L785.5,1474.4 L797.7,1472.2 L812.6,1475.8 L824.8,1472.8 L834.3,1473.9 L842.4,1472.5 L858.7,1474.4 L872.3,1473.9 L880.4,1474.9 L899.9,1473.9 L910.8,1473.9 L921.7,1474.4 L931.2,1472.8 L944.8,1474.7 L954.2,1473.3 L967.8,1475.2 L981.4,1472.5 L999.0,1475.2 L1016.6,1473.0 L1032.9,1470.9 L1046.5,1473.3 L1060.0,1471.7 L1076.3,1470.3 L1095.3,1471.7 L1106.1,1470.3 L1111.6,1470.9 L1117.0,1474.9 L1122.1,1485.3 L1127.3,1501.5 L1132.4,1522.7 L1137.9,1535.4 L1143.0,1522.7 L1148.2,1481.2 L1153.3,1439.1 L1158.5,1419.6 L1163.6,1427.5 L1168.8,1441.3 L1173.9,1449.2 L1179.1,1455.4 L1184.2,1469.5 L1189.4,1487.4 L1194.5,1492.0 L1199.7,1474.4 L1204.9,1455.4 L1210.0,1460.3 L1215.2,1488.8 L1220.3,1505.6 L1225.5,1492.8 L1230.6,1474.9 L1235.8,1472.5 L1241.2,1478.5 L1246.4,1470.3 L1251.5,1448.6 L1256.7,1439.4 L1261.8,1456.8 L1267.0,1482.5 L1272.1,1487.4 L1277.3,1469.0 L1282.4,1457.3 L1287.6,1473.6 L1292.7,1502.1 L1297.9,1510.5 L1303.0,1493.4 L1308.2,1483.1 L1313.3,1497.5 L1318.5,1512.4 L1323.7,1495.6 L1328.8,1456.8 L1334.0,1431.6 L1339.1,1435.9 L1344.3,1448.9 L1349.4,1449.2 L1354.6,1446.5 L1359.7,1458.9 L1364.9,1482.5 L1370.0,1502.1 L1375.2,1495.0 L1380.3,1480.6 L1385.5,1483.4 L1390.6,1499.6 L1395.8,1501.5 L1400.9,1479.8 L1406.1,1460.0 L1411.3,1461.7 L1416.4,1473.6 L1421.6,1473.9 L1426.7,1462.5 L1431.9,1455.7 L1437.0,1463.0 L1442.2,1474.4 L1447.3,1471.7 L1452.5,1456.8 L1457.6,1449.5 L1462.8,1461.7 L1467.9,1477.1 L1473.1,1480.6 L1478.2,1478.5 L1483.4,1482.5 L1488.6,1491.5 L1493.7,1496.1 L1498.9,1493.4 L1500.0,1492.6 L1504.1,1484.4 L1509.5,1479.0 L1514.9,1477.1 L1520.1,1473.0 L1525.2,1464.9 L1530.4,1456.0 L1535.5,1451.9 L1540.7,1457.0 L1545.8,1469.0 L1551.0,1480.4 L1556.1,1486.3 L1561.3,1481.2 L1566.4,1471.2 L1571.6,1469.3 L1576.8,1479.8 L1581.9,1489.3 L1587.1,1483.4 L1592.2,1469.3 L1597.4,1466.3 L1602.5,1479.3 L1607.7,1489.6 L1612.8,1484.2 L1618.0,1471.2 L1623.1,1469.5 L1628.3,1479.3 L1633.4,1483.6 L1638.6,1471.7 L1643.7,1456.2 L1648.9,1455.4 L1654.1,1466.3 L1659.2,1471.2 L1664.4,1463.0 L1669.5,1457.6 L1674.7,1470.3 L1679.8,1491.8 L1685.0,1498.3 L1690.1,1483.4 L1695.3,1468.4 L1700.4,1468.7 L1705.6,1479.3 L1710.7,1483.1 L1715.9,1477.1 L1721.0,1475.2 L1726.2,1484.7 L1731.4,1490.7 L1736.5,1478.5 L1741.7,1454.9 L1746.8,1442.4 L1752.0,1456.8 L1757.1,1477.9 L1762.3,1483.1 L1767.4,1472.5 L1772.6,1466.5 L1777.7,1471.7 L1782.9,1475.2 L1788.0,1469.3 L1793.2,1463.6 L1798.3,1471.2 L1803.5,1485.0 L1808.7,1491.0 L1813.8,1485.8 L1819.0,1480.4 L1824.1,1481.5 L1829.3,1482.0 L1834.4,1473.0 L1839.6,1463.0 L1844.7,1461.9 L1849.9,1469.0 L1855.0,1474.4 L1860.2,1472.5 L1865.3,1468.4 L1870.5,1472.5 L1875.6,1484.7 L1880.8,1487.7 L1886.0,1478.5 L1891.1,1470.9 L1896.3,1473.3 L1901.4,1480.4 L1906.6,1481.5 L1911.7,1475.8 L1916.9,1470.9 L1922.0,1470.6 L1927.2,1471.2 L1932.3,1465.7 L1937.5,1460.3 L1942.6,1462.7 L1947.8,1471.7 L1952.9,1476.6 L1958.1,1471.7 L1963.2,1466.3 L1968.4,1468.4 L1973.6,1476.3 L1978.7,1478.5 L1983.9,1474.4 L1989.0,1473.3 L1994.2,1480.4 L1999.3,1487.2 L2004.5,1482.5 L2009.6,1470.9 L2014.8,1467.4 L2019.9,1473.6 L2025.1,1478.2 L2030.2,1473.9 L2035.4,1467.9 L2040.5,1470.1 L2045.7,1479.3 L2050.9,1483.4 L2056.0,1479.3 L2061.2,1477.1 L2066.3,1481.2 L2071.5,1486.9 L2076.6,1484.7 L2081.8,1472.2 L2086.9,1462.7 L2092.1,1462.2 L2097.2,1464.9 L2099.9,1465.7 L2103.4,1465.3 L2109.2,1462.6 L2112.3,1463.3"/>
<path stroke="#808080" d="M304.4,1473.5 L310.8,1476.8 L316.3,1478.4 L321.7,1476.8 L329.8,1472.2 L333.9,1471.6 L344.8,1475.7 L355.6,1472.2 L360.2,1472.2 L370.5,1479.2 L375.9,1473.0 L380.8,1468.4 L386.0,1475.7 L391.4,1486.8 L396.6,1484.9 L401.7,1472.2 L406.9,1462.9 L412.0,1470.8 L417.2,1483.0 L422.3,1480.3 L427.5,1468.9 L432.6,1468.9 L437.8,1477.6 L442.9,1479.7 L448.1,1475.1 L453.2,1471.1 L458.4,1473.5 L463.5,1478.9 L468.7,1477.6 L473.9,1468.1 L479.0,1465.4 L484.2,1472.4 L489.9,1480.8 L494.5,1479.7 L499.6,1473.0 L504.8,1469.2 L509.9,1477.6 L515.6,1484.4 L520.5,1478.1 L525.7,1465.9 L530.5,1465.9 L535.4,1475.7 L540.8,1479.5 L546.0,1473.5 L551.2,1468.1 L556.3,1467.5 L561.5,1473.5 L567.2,1480.8 L571.8,1480.3 L576.9,1470.8 L582.3,1466.2 L587.5,1474.3 L592.6,1481.6 L597.8,1478.4 L603.0,1470.3 L608.1,1469.7 L613.3,1475.7 L618.7,1479.7 L623.8,1473.5 L629.0,1467.3 L634.1,1470.3 L639.3,1476.8 L644.5,1477.0 L651.2,1473.5 L659.4,1471.1 L664.8,1472.4 L670.2,1475.7 L675.6,1474.9 L680.3,1472.7 L685.7,1476.8 L690.8,1479.2 L696.0,1474.9 L701.4,1470.3 L706.8,1471.9 L712.3,1472.7 L717.7,1471.3 L722.3,1471.6 L727.4,1474.3 L732.6,1475.4 L739.4,1474.6 L747.5,1475.4 L752.9,1473.5 L758.4,1471.3 L763.5,1474.9 L768.7,1477.0 L773.8,1472.2 L779.0,1468.4 L784.1,1472.7 L789.3,1476.8 L794.4,1476.2 L799.6,1474.0 L804.7,1472.7 L809.9,1474.9 L815.1,1479.5 L820.2,1480.3 L825.4,1472.7 L830.5,1465.4 L835.7,1467.0 L840.8,1475.7 L846.0,1478.9 L851.1,1474.3 L856.3,1468.4 L861.4,1471.1 L866.6,1478.4 L871.7,1479.5 L876.9,1473.8 L882.0,1473.2 L887.2,1477.6 L892.4,1477.8 L897.5,1473.0 L899.9,1472.2 L904.1,1470.8 L909.5,1472.4 L913.6,1471.9 L918.2,1469.7 L923.3,1473.0 L928.5,1477.6 L933.6,1478.9 L938.8,1478.1 L943.9,1475.7 L949.1,1473.2 L954.2,1471.6 L959.4,1471.1 L964.6,1474.6 L969.7,1478.7 L974.9,1476.2 L980.0,1472.2 L985.2,1473.8 L990.3,1477.3 L995.5,1475.4 L1000.6,1471.1 L1005.8,1472.2 L1010.9,1475.7 L1016.1,1475.1 L1021.2,1473.5 L1026.4,1472.4 L1031.5,1472.2 L1036.7,1475.1 L1041.8,1478.1 L1047.0,1474.9 L1052.2,1471.9 L1057.3,1474.9 L1062.5,1479.5 L1067.6,1481.1 L1072.8,1478.9 L1077.9,1476.2 L1083.1,1475.7 L1088.2,1475.4 L1093.4,1472.2 L1098.5,1473.5 L1103.7,1474.9 L1108.8,1459.9 L1114.0,1428.5 L1119.1,1428.5 L1124.3,1470.8 L1129.5,1519.1 L1134.6,1520.2 L1139.8,1496.6 L1144.9,1473.5 L1150.1,1472.2 L1155.2,1487.1 L1160.4,1474.9 L1165.5,1432.0 L1171.5,1421.4 L1176.6,1468.1 L1181.8,1518.3 L1187.0,1515.8 L1192.1,1472.2 L1197.3,1447.2 L1202.4,1463.2 L1207.6,1492.5 L1212.7,1495.2 L1217.9,1468.1 L1223.0,1448.3 L1228.2,1463.2 L1233.3,1491.7 L1238.5,1488.2 L1243.6,1454.0 L1248.8,1448.0 L1253.9,1492.5 L1259.1,1530.5 L1264.3,1504.7 L1269.4,1447.7 L1274.6,1425.2 L1279.7,1458.0 L1284.9,1488.4 L1290.0,1465.4 L1295.2,1420.6 L1300.3,1428.8 L1305.5,1480.3 L1310.6,1509.6 L1315.8,1503.3 L1320.9,1490.9 L1326.1,1500.1 L1331.2,1510.7 L1336.4,1488.4 L1341.6,1455.9 L1346.7,1468.1 L1351.9,1495.2 L1357.0,1462.7 L1362.2,1424.7 L1367.3,1412.5 L1372.5,1470.8 L1377.6,1531.3 L1382.8,1527.8 L1387.9,1468.1 L1393.1,1431.5 L1398.2,1453.2 L1403.4,1492.2 L1408.5,1489.8 L1413.7,1450.5 L1418.9,1432.8 L1424.0,1458.6 L1429.2,1496.0 L1434.3,1496.6 L1439.5,1475.7 L1444.6,1476.8 L1449.8,1493.8 L1454.9,1487.6 L1460.1,1457.2 L1465.2,1444.5 L1470.4,1474.9 L1475.5,1502.3 L1480.7,1485.7 L1485.8,1449.6 L1491.0,1447.7 L1496.1,1478.9 L1499.9,1489.8 L1502.2,1496.6 L1507.3,1475.7 L1512.5,1454.5 L1517.6,1468.1 L1522.8,1498.5 L1527.9,1503.9 L1533.1,1478.1 L1538.2,1458.6 L1543.4,1471.3 L1548.5,1492.8 L1553.7,1488.7 L1558.9,1462.7 L1564.0,1449.9 L1569.2,1465.4 L1574.3,1484.1 L1579.5,1481.9 L1584.6,1468.9 L1589.8,1469.2 L1594.9,1480.3 L1600.1,1478.4 L1605.2,1455.3 L1610.4,1439.3 L1615.5,1449.1 L1620.7,1473.5 L1625.8,1488.2 L1631.0,1483.5 L1636.2,1477.0 L1641.3,1485.7 L1646.5,1497.1 L1651.6,1494.7 L1656.8,1482.2 L1661.9,1478.9 L1667.1,1485.2 L1672.2,1486.3 L1677.4,1470.3 L1682.5,1454.5 L1687.7,1455.9 L1692.8,1470.3 L1698.0,1474.9 L1703.1,1466.7 L1708.3,1462.7 L1713.5,1470.8 L1718.6,1478.1 L1723.8,1474.9 L1728.9,1467.0 L1734.1,1464.3 L1739.2,1468.6 L1744.4,1477.6 L1749.5,1479.5 L1754.7,1473.0 L1759.8,1475.4 L1765.0,1486.3 L1770.1,1484.9 L1775.3,1469.4 L1780.4,1461.6 L1785.6,1468.9 L1790.8,1478.7 L1795.9,1475.7 L1801.1,1462.7 L1806.2,1459.1 L1811.4,1474.0 L1816.5,1490.3 L1821.7,1492.2 L1826.8,1482.5 L1832.0,1478.7 L1837.1,1483.0 L1842.3,1485.4 L1847.4,1477.6 L1852.6,1469.2 L1857.7,1466.2 L1862.9,1468.9 L1868.0,1469.2 L1873.2,1465.6 L1878.4,1467.8 L1883.5,1478.9 L1888.7,1484.9 L1893.8,1474.9 L1899.0,1463.2 L1904.1,1465.4 L1909.3,1480.3 L1914.4,1487.9 L1919.6,1477.6 L1924.7,1463.7 L1929.9,1463.2 L1935.0,1473.0 L1940.2,1476.5 L1945.3,1472.2 L1950.5,1471.1 L1955.7,1476.2 L1960.8,1479.5 L1966.0,1472.7 L1971.1,1464.8 L1976.3,1467.3 L1981.4,1481.1 L1986.6,1489.0 L1991.7,1481.1 L1996.9,1470.3 L2002.0,1472.2 L2007.2,1483.8 L2012.3,1489.0 L2017.5,1479.5 L2022.6,1466.5 L2027.8,1465.9 L2033.0,1474.9 L2038.1,1478.9 L2043.3,1472.2 L2048.4,1465.9 L2053.6,1466.5 L2058.7,1471.6 L2063.9,1473.5 L2069.0,1470.0 L2074.2,1465.6 L2079.3,1465.4 L2084.5,1470.8 L2089.6,1474.9 L2094.8,1471.3 L2099.9,1467.3 L2101.4,1467.4 L2106.3,1472.0 L2112.3,1479.8"/>
<path stroke="#808080" d="M304.4,1474.5 L313.6,1473.4 L329.8,1474.8 L340.7,1474.0 L367.8,1474.5 L378.7,1473.4 L397.6,1475.0 L416.6,1473.4 L427.5,1474.5 L438.3,1473.4 L457.3,1474.5 L476.3,1474.2 L493.9,1473.4 L504.8,1475.0 L517.0,1473.7 L530.5,1474.5 L540.0,1473.7 L557.7,1475.0 L571.2,1474.0 L591.6,1473.7 L603.8,1475.3 L613.3,1473.2 L626.8,1475.3 L639.0,1473.7 L652.6,1474.5 L679.7,1474.2 L706.8,1474.0 L734.0,1474.2 L758.4,1473.7 L767.9,1475.3 L780.1,1473.4 L799.1,1475.3 L815.3,1474.0 L831.6,1473.2 L846.5,1475.3 L857.4,1473.4 L869.6,1474.5 L883.1,1473.4 L899.9,1473.4 L908.1,1473.2 L919.0,1474.2 L929.8,1473.2 L939.3,1473.7 L944.8,1471.3 L950.2,1471.3 L955.3,1478.0 L960.5,1486.2 L965.6,1494.3 L970.8,1503.0 L975.9,1502.7 L981.1,1480.7 L986.2,1456.9 L991.4,1447.4 L996.6,1450.4 L1001.7,1459.0 L1006.9,1468.0 L1012.0,1473.7 L1017.2,1474.0 L1022.3,1470.4 L1027.5,1476.1 L1032.6,1487.0 L1037.8,1480.7 L1042.9,1463.1 L1048.1,1458.0 L1053.2,1463.1 L1058.4,1469.1 L1063.5,1471.8 L1068.7,1473.2 L1073.9,1475.3 L1079.0,1478.3 L1084.2,1483.5 L1089.3,1486.7 L1094.5,1476.1 L1099.6,1462.3 L1104.8,1465.8 L1109.9,1475.9 L1115.1,1475.6 L1120.2,1475.6 L1125.4,1488.9 L1130.5,1505.2 L1135.7,1507.3 L1140.8,1494.3 L1146.0,1476.1 L1151.2,1467.2 L1156.3,1463.7 L1161.5,1446.8 L1166.6,1422.4 L1171.8,1412.1 L1176.9,1433.3 L1182.1,1472.6 L1187.2,1503.3 L1192.4,1507.1 L1197.5,1502.7 L1202.7,1507.3 L1207.8,1509.8 L1213.0,1506.0 L1218.1,1498.9 L1223.3,1483.5 L1228.5,1461.8 L1233.6,1440.1 L1238.8,1429.2 L1243.9,1442.8 L1249.1,1464.5 L1254.2,1481.6 L1259.4,1479.9 L1264.5,1467.7 L1269.7,1461.2 L1274.8,1467.2 L1280.0,1474.0 L1285.1,1465.8 L1290.3,1455.0 L1295.4,1459.9 L1300.6,1479.4 L1305.7,1494.8 L1310.9,1493.2 L1316.1,1482.6 L1321.2,1477.2 L1326.4,1479.4 L1331.5,1485.1 L1336.7,1485.9 L1341.8,1480.7 L1347.0,1472.1 L1352.1,1460.4 L1357.3,1451.5 L1362.4,1455.5 L1367.6,1471.3 L1372.7,1484.3 L1377.9,1483.5 L1383.0,1474.5 L1388.2,1471.3 L1393.4,1480.2 L1398.5,1492.4 L1403.7,1494.3 L1408.8,1484.0 L1414.0,1476.7 L1419.1,1479.4 L1424.3,1484.3 L1429.4,1479.4 L1434.6,1465.0 L1439.7,1457.1 L1444.9,1463.1 L1450.0,1470.7 L1455.2,1469.1 L1460.3,1461.2 L1465.5,1459.0 L1470.7,1463.7 L1475.8,1465.8 L1481.0,1461.2 L1486.1,1455.8 L1491.3,1459.9 L1496.4,1479.4 L1499.9,1491.6 L1502.2,1494.6 L1507.3,1497.8 L1512.5,1492.4 L1517.6,1489.2 L1522.8,1488.9 L1527.9,1486.2 L1533.1,1477.2 L1538.2,1471.3 L1543.4,1474.8 L1548.5,1482.6 L1553.7,1481.3 L1558.9,1469.9 L1564.0,1460.9 L1569.2,1462.3 L1574.3,1468.3 L1579.5,1466.4 L1584.6,1459.0 L1589.8,1456.3 L1594.9,1460.9 L1600.1,1467.7 L1605.2,1471.0 L1610.4,1470.4 L1615.5,1472.6 L1620.7,1480.7 L1625.8,1488.9 L1631.0,1489.4 L1636.2,1484.3 L1641.3,1480.7 L1646.5,1477.5 L1651.6,1469.9 L1656.8,1461.8 L1661.9,1459.9 L1667.1,1466.6 L1672.2,1474.8 L1677.4,1476.9 L1682.5,1475.9 L1687.7,1478.6 L1692.8,1485.6 L1698.0,1489.7 L1703.1,1484.3 L1708.3,1476.4 L1713.5,1473.7 L1718.6,1475.0 L1723.8,1476.1 L1728.9,1473.2 L1734.1,1469.4 L1739.2,1469.1 L1744.4,1471.0 L1749.5,1472.1 L1754.7,1471.5 L1759.8,1470.7 L1765.0,1470.2 L1770.1,1470.7 L1775.3,1470.2 L1780.4,1468.5 L1785.6,1468.3 L1790.8,1469.9 L1795.9,1470.2 L1801.1,1468.8 L1806.2,1470.4 L1811.4,1474.8 L1816.5,1478.0 L1821.7,1478.8 L1826.8,1478.6 L1832.0,1478.0 L1837.1,1476.9 L1842.3,1475.6 L1847.4,1474.2 L1852.6,1474.0 L1857.7,1475.0 L1862.9,1475.6 L1868.0,1473.7 L1873.2,1472.1 L1878.4,1472.6 L1883.5,1475.3 L1888.7,1478.0 L1893.8,1479.7 L1899.0,1479.7 L1904.1,1479.1 L1909.3,1478.6 L1914.4,1476.9 L1919.6,1474.0 L1924.7,1470.7 L1929.9,1468.8 L1935.0,1469.1 L1940.2,1469.1 L1945.3,1467.7 L1950.5,1467.5 L1955.7,1470.4 L1960.8,1473.7 L1966.0,1474.5 L1971.1,1474.0 L1976.3,1473.4 L1981.4,1474.0 L1986.6,1474.8 L1991.7,1474.2 L1996.9,1472.9 L2002.0,1472.9 L2007.2,1474.8 L2012.3,1476.4 L2017.5,1476.9 L2022.6,1476.4 L2027.8,1475.9 L2033.0,1475.6 L2038.1,1475.9 L2043.3,1477.2 L2048.4,1478.8 L2053.6,1479.9 L2058.7,1479.4 L2063.9,1477.2 L2069.0,1475.0 L2074.2,1474.2 L2079.3,1474.5 L2084.5,1474.0 L2089.6,1471.5 L2094.8,1469.4 L2099.9,1469.1 L2106.3,1472.1 L2112.3,1472.1"/>
<path stroke="#808080" d="M304.4,1477.2 L309.5,1476.7 L314.9,1473.2 L321.7,1469.4 L327.1,1469.1 L332.5,1471.3 L338.0,1476.4 L343.4,1480.5 L348.3,1478.9 L353.4,1472.6 L358.6,1469.1 L363.7,1472.4 L368.9,1475.3 L374.0,1471.0 L379.2,1468.3 L384.4,1474.8 L389.5,1479.9 L394.7,1477.8 L400.4,1475.1 L405.8,1473.2 L410.7,1469.9 L415.8,1471.3 L421.0,1477.2 L426.1,1479.9 L431.3,1477.2 L436.4,1476.1 L441.6,1477.2 L446.7,1475.1 L451.9,1469.9 L456.0,1469.1 L461.4,1474.5 L467.1,1479.9 L472.2,1478.6 L477.4,1472.9 L482.5,1474.5 L487.7,1478.6 L493.1,1472.6 L498.3,1466.9 L503.4,1469.1 L508.6,1471.8 L513.7,1472.1 L518.9,1474.0 L524.0,1479.4 L529.2,1482.7 L534.3,1475.9 L539.5,1469.1 L544.6,1471.3 L549.8,1476.7 L554.9,1472.6 L560.1,1464.2 L565.3,1467.2 L570.4,1484.0 L575.6,1489.7 L580.7,1476.7 L585.9,1465.8 L591.0,1466.4 L596.2,1468.3 L601.3,1468.6 L606.5,1469.1 L611.6,1470.7 L616.8,1476.1 L621.9,1483.7 L627.1,1482.1 L632.2,1471.8 L637.4,1469.6 L642.6,1477.2 L647.7,1479.9 L652.9,1474.5 L658.0,1469.6 L663.2,1469.9 L668.3,1471.8 L677.0,1472.6 L689.2,1471.5 L694.6,1475.1 L699.8,1481.0 L704.9,1480.5 L710.1,1471.8 L715.2,1466.9 L720.4,1474.0 L725.5,1478.9 L730.7,1474.5 L735.9,1472.4 L741.0,1473.7 L746.2,1472.4 L751.3,1471.5 L756.5,1475.3 L761.6,1478.6 L766.8,1479.9 L771.9,1480.2 L777.1,1475.3 L782.2,1469.9 L787.4,1469.1 L792.5,1469.1 L797.7,1471.3 L802.8,1478.0 L808.0,1483.7 L813.2,1482.1 L818.3,1475.1 L823.5,1470.5 L828.6,1472.1 L833.8,1475.1 L838.9,1474.5 L844.1,1471.8 L849.2,1468.0 L854.4,1469.1 L859.5,1478.6 L864.7,1482.4 L869.8,1476.7 L875.0,1471.3 L880.1,1472.6 L885.3,1478.3 L890.5,1478.0 L895.6,1473.2 L899.9,1470.5 L905.4,1471.7 L910.8,1475.8 L916.0,1477.1 L921.2,1473.1 L926.3,1472.0 L931.5,1476.3 L936.6,1479.8 L941.8,1475.8 L946.9,1468.7 L952.1,1468.4 L957.2,1473.6 L962.4,1478.2 L967.5,1479.6 L972.7,1472.5 L978.7,1464.9 L983.8,1471.2 L989.0,1480.9 L994.1,1478.7 L999.3,1473.9 L1004.4,1474.7 L1009.6,1474.1 L1014.7,1470.6 L1019.9,1470.9 L1025.0,1471.7 L1030.2,1470.6 L1035.3,1471.4 L1040.5,1475.8 L1045.6,1474.4 L1050.8,1472.0 L1056.0,1472.5 L1061.1,1472.2 L1066.3,1470.3 L1071.4,1467.9 L1076.6,1464.4 L1081.7,1467.9 L1086.9,1477.7 L1092.0,1477.7 L1097.2,1467.1 L1102.3,1462.7 L1107.5,1471.2 L1112.6,1485.3 L1117.8,1495.6 L1122.9,1508.3 L1128.1,1529.7 L1133.3,1535.7 L1138.4,1499.9 L1143.6,1437.5 L1148.7,1412.6 L1153.9,1429.4 L1159.0,1450.3 L1164.2,1451.6 L1169.3,1447.6 L1174.5,1466.0 L1179.6,1499.9 L1184.8,1508.6 L1189.9,1476.8 L1195.1,1439.1 L1200.2,1438.1 L1205.4,1483.1 L1210.6,1518.9 L1215.7,1501.3 L1220.9,1473.9 L1226.0,1474.4 L1231.2,1494.2 L1236.3,1491.2 L1241.5,1449.7 L1246.6,1413.9 L1251.8,1430.2 L1256.9,1487.7 L1262.1,1515.4 L1267.2,1474.1 L1272.4,1435.6 L1277.5,1459.2 L1282.7,1514.8 L1287.8,1522.4 L1293.0,1479.6 L1298.2,1462.7 L1303.3,1494.5 L1308.5,1524.3 L1313.6,1505.3 L1318.8,1457.9 L1323.9,1421.2 L1329.1,1422.9 L1334.2,1452.4 L1339.4,1465.2 L1344.5,1455.2 L1349.7,1461.4 L1354.8,1491.2 L1360.0,1505.3 L1365.1,1482.3 L1370.3,1460.0 L1375.5,1480.1 L1380.6,1514.8 L1385.8,1508.6 L1390.9,1464.6 L1396.1,1443.8 L1401.2,1474.1 L1406.4,1497.2 L1411.5,1483.1 L1416.7,1451.1 L1421.8,1442.9 L1427.0,1465.5 L1432.1,1486.9 L1437.3,1475.0 L1442.4,1448.9 L1447.6,1448.9 L1452.8,1474.7 L1457.9,1486.3 L1463.1,1470.6 L1468.2,1456.5 L1473.4,1473.3 L1478.5,1504.0 L1483.7,1505.3 L1488.8,1483.6 L1494.0,1476.8 L1499.9,1483.6 L1505.2,1488.1 L1510.3,1469.1 L1515.5,1447.9 L1520.6,1452.8 L1525.8,1466.4 L1530.9,1460.1 L1536.1,1456.1 L1541.2,1477.2 L1546.4,1498.4 L1551.5,1493.5 L1556.7,1467.7 L1561.8,1453.9 L1567.0,1471.8 L1572.1,1503.0 L1577.3,1498.4 L1582.5,1462.3 L1587.6,1446.6 L1592.8,1471.8 L1597.9,1497.6 L1603.1,1495.4 L1608.2,1475.9 L1613.4,1465.3 L1618.5,1472.9 L1623.7,1486.7 L1628.8,1481.3 L1634.0,1452.8 L1639.1,1437.1 L1644.3,1458.2 L1649.4,1483.7 L1654.6,1472.9 L1659.8,1455.0 L1664.9,1469.1 L1670.1,1495.7 L1675.2,1498.4 L1680.4,1478.6 L1685.5,1467.7 L1690.7,1479.9 L1695.8,1492.2 L1701.0,1481.8 L1706.1,1468.3 L1711.3,1471.8 L1716.4,1486.7 L1721.6,1490.0 L1726.7,1471.8 L1731.9,1447.9 L1737.6,1439.3 L1742.7,1458.2 L1747.9,1483.2 L1753.1,1490.3 L1758.2,1471.8 L1763.4,1461.0 L1768.5,1475.3 L1773.7,1485.4 L1778.8,1471.3 L1784.0,1459.1 L1789.1,1469.1 L1794.3,1485.9 L1799.4,1487.5 L1804.6,1474.5 L1809.7,1467.2 L1814.9,1477.2 L1820.0,1491.3 L1825.2,1485.4 L1830.3,1469.1 L1835.5,1465.0 L1840.7,1470.5 L1845.8,1471.5 L1851.0,1463.7 L1856.1,1462.0 L1861.3,1479.9 L1866.4,1498.1 L1871.6,1492.2 L1876.7,1471.3 L1881.9,1461.5 L1887.0,1470.5 L1892.2,1482.1 L1897.3,1482.4 L1902.5,1475.1 L1907.6,1471.8 L1912.8,1475.3 L1918.0,1473.7 L1923.1,1461.8 L1928.3,1452.8 L1933.4,1461.8 L1938.6,1477.8 L1943.7,1484.0 L1948.9,1479.4 L1954.0,1470.5 L1959.2,1465.6 L1964.3,1469.9 L1969.5,1479.1 L1974.6,1476.7 L1979.8,1466.4 L1984.9,1471.3 L1990.1,1489.4 L1995.3,1490.5 L2000.4,1475.9 L2005.6,1465.6 L2010.7,1468.6 L2015.9,1481.3 L2021.0,1488.4 L2026.2,1474.5 L2031.3,1461.5 L2036.5,1468.6 L2041.6,1484.6 L2046.8,1484.8 L2051.9,1474.0 L2057.1,1472.4 L2062.2,1482.1 L2067.4,1486.7 L2072.6,1475.3 L2077.7,1460.4 L2082.9,1458.8 L2088.0,1470.5 L2093.2,1477.2 L2096.7,1472.6 L2099.9,1466.9 L2104.2,1454.7 L2109.2,1459.6 L2112.3,1471.2"/>
<path stroke="#808080" d="M304.4,1474.9 L310.8,1472.2 L316.3,1473.5 L321.7,1477.1 L326.6,1476.8 L331.7,1470.8 L336.9,1468.4 L342.0,1473.5 L347.2,1479.5 L352.3,1477.6 L357.5,1472.2 L362.7,1470.3 L367.8,1470.8 L373.0,1473.5 L378.1,1476.5 L383.3,1475.7 L388.4,1473.5 L393.6,1474.3 L398.7,1476.2 L403.9,1474.9 L409.0,1472.5 L414.2,1471.1 L419.3,1471.6 L424.5,1474.1 L429.6,1475.4 L434.8,1473.3 L440.0,1471.6 L445.1,1474.1 L450.3,1476.8 L455.4,1475.4 L460.6,1472.7 L465.7,1473.0 L470.9,1476.2 L476.0,1477.3 L481.2,1473.8 L486.3,1471.6 L491.5,1474.3 L496.6,1477.6 L501.8,1476.2 L506.9,1472.2 L512.1,1470.6 L517.2,1471.6 L522.4,1474.3 L527.6,1475.7 L532.7,1475.2 L537.9,1474.3 L543.0,1473.5 L548.2,1473.3 L553.3,1473.5 L558.5,1474.9 L563.6,1476.0 L568.8,1475.7 L573.9,1473.8 L579.1,1472.5 L584.2,1473.0 L589.4,1474.1 L594.5,1473.3 L599.7,1473.3 L604.9,1474.9 L610.0,1473.5 L615.2,1471.4 L620.3,1472.5 L625.5,1475.2 L630.6,1474.6 L635.8,1473.0 L640.9,1473.3 L646.1,1474.6 L651.2,1474.3 L658.0,1473.3 L666.2,1473.5 L675.6,1474.6 L682.4,1472.2 L687.8,1471.9 L693.3,1475.4 L698.4,1477.3 L703.6,1474.9 L708.7,1472.2 L713.9,1472.5 L719.0,1474.1 L728.5,1475.2 L744.8,1474.1 L755.7,1472.2 L766.5,1473.0 L780.1,1473.3 L790.9,1474.3 L804.5,1473.3 L815.3,1474.6 L823.5,1476.0 L833.0,1473.5 L842.4,1473.0 L853.3,1472.7 L862.8,1474.1 L869.6,1471.9 L875.0,1472.2 L880.4,1473.8 L891.3,1472.5 L899.9,1473.8 L905.4,1475.5 L910.8,1474.9 L916.0,1473.3 L921.2,1474.1 L926.3,1476.0 L931.5,1475.5 L936.6,1471.7 L941.8,1470.1 L946.9,1471.7 L952.1,1480.4 L957.2,1495.3 L962.4,1504.2 L967.5,1489.3 L972.7,1461.6 L977.8,1444.8 L983.0,1449.7 L988.1,1463.5 L993.3,1471.7 L998.5,1474.4 L1003.6,1481.7 L1008.8,1487.1 L1013.9,1475.8 L1019.1,1458.9 L1024.2,1462.7 L1029.4,1481.7 L1034.5,1485.2 L1039.7,1467.6 L1044.8,1451.9 L1050.0,1454.9 L1055.1,1475.8 L1060.3,1493.4 L1065.4,1488.0 L1070.6,1467.6 L1075.8,1461.6 L1080.9,1478.5 L1086.1,1487.4 L1091.2,1473.0 L1096.4,1458.1 L1101.5,1464.9 L1106.7,1483.9 L1111.8,1490.1 L1117.0,1481.7 L1122.1,1478.5 L1127.3,1491.2 L1132.4,1506.9 L1137.6,1506.9 L1142.7,1488.0 L1147.9,1469.0 L1153.1,1459.5 L1158.2,1450.5 L1163.4,1431.0 L1168.5,1412.0 L1173.7,1418.0 L1178.8,1448.6 L1184.0,1483.9 L1189.1,1504.2 L1194.3,1506.9 L1199.4,1502.9 L1204.6,1502.9 L1209.7,1504.2 L1214.9,1504.2 L1220.0,1495.6 L1225.2,1473.0 L1230.3,1451.3 L1235.5,1445.9 L1240.7,1451.3 L1245.8,1455.4 L1251.0,1460.8 L1256.1,1469.5 L1261.3,1479.8 L1266.4,1484.4 L1271.6,1478.5 L1276.7,1466.3 L1281.9,1461.4 L1287.0,1467.9 L1292.2,1474.9 L1297.3,1472.2 L1302.5,1468.4 L1307.6,1476.3 L1312.8,1490.7 L1318.0,1496.1 L1323.1,1485.2 L1328.3,1469.0 L1333.4,1468.4 L1338.6,1480.6 L1343.7,1483.9 L1348.9,1469.5 L1354.0,1454.1 L1359.2,1456.2 L1364.3,1477.1 L1369.5,1493.4 L1374.6,1482.5 L1379.8,1461.4 L1384.9,1458.1 L1390.1,1475.8 L1395.3,1490.7 L1400.4,1482.0 L1405.6,1466.8 L1410.7,1469.0 L1415.9,1486.6 L1421.0,1491.2 L1426.2,1471.7 L1431.3,1454.3 L1436.5,1460.8 L1441.6,1483.9 L1446.8,1491.2 L1451.9,1475.8 L1457.1,1458.7 L1462.2,1459.5 L1467.4,1473.9 L1472.6,1478.5 L1477.7,1467.6 L1482.9,1460.0 L1488.0,1471.7 L1493.2,1490.7 L1499.9,1492.0 L1504.1,1471.7 L1509.2,1452.7 L1514.4,1457.0 L1519.5,1477.1 L1524.7,1486.6 L1529.8,1476.6 L1535.0,1466.8 L1540.1,1474.4 L1545.3,1490.9 L1550.4,1491.5 L1555.6,1475.8 L1560.8,1468.4 L1565.9,1479.8 L1571.1,1490.1 L1576.2,1479.3 L1581.4,1458.7 L1586.5,1451.6 L1591.7,1460.8 L1596.8,1470.3 L1602.0,1465.7 L1607.1,1458.7 L1612.3,1464.1 L1617.4,1480.6 L1622.6,1488.5 L1627.7,1477.1 L1632.9,1464.9 L1638.1,1470.9 L1643.2,1486.9 L1648.4,1487.1 L1653.5,1470.6 L1658.7,1464.1 L1663.8,1477.6 L1669.0,1491.5 L1674.1,1483.3 L1679.3,1464.1 L1684.4,1460.0 L1689.6,1475.8 L1694.7,1487.4 L1699.9,1482.5 L1705.0,1469.8 L1710.2,1468.4 L1715.4,1477.9 L1720.5,1482.0 L1725.7,1470.3 L1730.8,1458.9 L1736.0,1468.4 L1741.1,1487.1 L1746.3,1488.0 L1751.4,1470.3 L1756.6,1459.5 L1761.7,1469.0 L1766.9,1482.5 L1772.0,1481.2 L1777.2,1467.6 L1782.3,1460.8 L1787.5,1469.0 L1792.6,1477.6 L1797.8,1471.7 L1803.0,1461.6 L1808.1,1463.5 L1813.3,1479.3 L1818.4,1492.3 L1823.6,1484.7 L1828.7,1467.1 L1833.9,1461.6 L1839.0,1473.9 L1844.2,1486.1 L1849.3,1483.9 L1854.5,1473.0 L1859.6,1469.5 L1864.8,1477.1 L1869.9,1482.0 L1875.1,1477.6 L1880.3,1472.5 L1885.4,1475.8 L1890.6,1480.4 L1895.7,1474.4 L1900.9,1464.1 L1906.0,1461.4 L1911.2,1468.4 L1916.3,1476.0 L1921.5,1477.1 L1926.6,1473.0 L1931.8,1472.0 L1936.9,1475.8 L1942.1,1477.1 L1947.2,1471.1 L1952.4,1465.2 L1957.6,1465.7 L1962.7,1470.3 L1967.9,1473.0 L1973.0,1472.5 L1978.2,1474.9 L1983.3,1483.3 L1988.5,1488.0 L1993.6,1482.5 L1998.8,1472.5 L2003.9,1467.9 L2009.1,1471.7 L2014.2,1476.3 L2019.4,1474.4 L2024.5,1468.2 L2029.7,1467.1 L2034.9,1473.9 L2040.0,1479.3 L2045.2,1475.2 L2050.3,1469.0 L2055.5,1470.1 L2060.6,1479.8 L2065.8,1485.2 L2070.9,1477.1 L2076.1,1467.3 L2081.2,1470.1 L2086.4,1479.8 L2091.5,1482.0 L2096.7,1474.4 L2099.9,1469.8 L2104.0,1465.3 L2109.2,1468.7 L2112.3,1472.2"/>
<path stroke="#808080" d="M304.4,1473.2 L310.8,1467.8 L316.3,1475.3 L321.7,1483.5 L326.6,1480.0 L331.7,1474.0 L336.9,1476.2 L342.0,1475.9 L347.2,1471.8 L352.3,1470.5 L357.5,1473.5 L362.7,1478.1 L367.8,1481.0 L373.0,1480.5 L378.1,1476.2 L383.3,1471.3 L388.4,1469.4 L393.6,1471.3 L398.7,1473.2 L403.9,1475.3 L409.0,1477.5 L414.2,1476.7 L419.3,1469.9 L424.5,1464.2 L429.6,1468.6 L434.8,1476.7 L440.0,1479.1 L445.1,1476.2 L450.3,1475.9 L455.4,1478.1 L460.6,1476.7 L465.7,1471.8 L470.9,1469.1 L476.0,1471.8 L481.2,1473.5 L486.3,1470.7 L491.5,1471.8 L496.6,1478.1 L501.8,1478.1 L506.9,1472.6 L512.1,1469.1 L517.2,1468.6 L522.4,1471.8 L527.6,1476.2 L532.7,1475.9 L537.9,1473.5 L543.0,1473.2 L548.2,1472.1 L553.3,1467.8 L558.5,1466.9 L563.6,1474.5 L568.8,1478.1 L573.9,1471.8 L579.1,1470.2 L584.2,1476.2 L589.4,1474.8 L594.5,1468.6 L599.7,1471.3 L604.9,1478.3 L610.0,1478.9 L615.2,1477.5 L620.3,1478.1 L625.5,1476.7 L630.6,1473.2 L635.8,1470.7 L640.9,1469.9 L646.1,1470.5 L651.2,1472.6 L656.4,1474.8 L661.5,1475.3 L666.7,1471.8 L671.8,1471.3 L677.0,1476.7 L682.2,1476.2 L687.3,1470.5 L692.5,1474.0 L697.6,1482.9 L702.8,1478.9 L707.9,1469.1 L713.1,1472.9 L718.2,1483.2 L723.4,1480.0 L728.5,1470.7 L733.7,1471.8 L738.8,1478.1 L744.0,1480.8 L749.1,1476.7 L754.3,1468.6 L759.5,1466.4 L764.6,1471.8 L769.8,1476.2 L774.9,1477.5 L780.1,1479.4 L785.2,1476.2 L790.4,1468.6 L795.5,1468.8 L800.7,1476.2 L805.8,1476.2 L811.0,1472.6 L816.1,1474.5 L821.3,1476.7 L831.6,1475.3 L842.4,1473.5 L850.6,1472.6 L858.7,1469.4 L864.1,1474.0 L869.6,1478.9 L875.0,1476.2 L880.1,1468.6 L885.3,1466.7 L890.5,1469.9 L895.6,1472.6 L899.9,1472.4 L905.4,1471.9 L910.8,1470.8 L916.3,1470.8 L920.6,1476.2 L925.8,1490.3 L930.9,1499.3 L936.1,1493.3 L941.2,1472.7 L946.4,1459.7 L951.5,1460.2 L956.7,1462.1 L961.8,1461.3 L967.0,1465.4 L972.1,1473.0 L977.3,1472.7 L982.5,1467.3 L987.6,1470.2 L992.8,1475.7 L997.9,1465.4 L1003.1,1459.1 L1008.2,1474.9 L1013.4,1497.4 L1018.5,1493.8 L1023.7,1466.7 L1028.8,1449.6 L1034.0,1459.9 L1039.1,1486.5 L1044.3,1496.0 L1049.4,1480.3 L1054.6,1470.0 L1059.8,1473.0 L1064.9,1477.6 L1070.1,1474.0 L1075.2,1464.8 L1080.4,1465.1 L1085.5,1478.9 L1090.7,1484.9 L1095.8,1476.8 L1101.0,1474.3 L1106.1,1485.2 L1111.3,1482.2 L1116.4,1456.4 L1121.6,1442.3 L1126.7,1473.5 L1131.9,1525.0 L1137.6,1531.0 L1142.2,1478.9 L1147.4,1422.8 L1152.5,1423.3 L1157.7,1465.9 L1162.8,1481.6 L1168.0,1438.2 L1173.1,1413.8 L1178.3,1465.4 L1183.4,1532.6 L1188.6,1535.3 L1193.7,1489.8 L1198.9,1462.1 L1204.0,1481.6 L1209.2,1517.4 L1214.3,1522.3 L1219.5,1487.1 L1224.7,1451.8 L1229.8,1439.6 L1235.0,1446.4 L1240.1,1456.4 L1245.3,1461.3 L1250.4,1470.8 L1255.6,1486.5 L1260.7,1491.9 L1265.9,1480.8 L1271.0,1461.3 L1276.2,1447.7 L1281.3,1445.3 L1286.5,1444.5 L1291.6,1451.3 L1296.8,1480.3 L1302.0,1509.6 L1307.1,1516.9 L1312.3,1502.8 L1317.4,1481.6 L1322.6,1472.1 L1327.7,1487.1 L1332.9,1502.8 L1338.0,1487.1 L1343.2,1460.7 L1348.3,1449.1 L1353.5,1453.2 L1358.6,1454.5 L1363.8,1443.7 L1368.9,1436.9 L1374.1,1459.9 L1379.3,1493.8 L1384.4,1503.9 L1389.6,1484.3 L1394.7,1463.2 L1399.9,1459.9 L1405.0,1473.5 L1410.2,1486.2 L1415.3,1487.1 L1420.5,1482.2 L1425.6,1481.6 L1430.8,1484.3 L1435.9,1480.3 L1441.1,1470.2 L1446.2,1462.6 L1451.4,1463.2 L1456.6,1470.8 L1461.7,1477.8 L1466.9,1476.2 L1472.0,1464.8 L1477.2,1453.2 L1482.3,1450.4 L1487.5,1455.9 L1492.6,1464.0 L1499.9,1474.9 L1504.1,1483.0 L1509.2,1496.0 L1514.4,1499.8 L1519.5,1487.1 L1524.7,1472.1 L1529.8,1480.3 L1535.0,1499.8 L1540.1,1501.4 L1545.3,1483.0 L1550.4,1465.4 L1555.6,1460.7 L1560.8,1466.7 L1565.9,1465.4 L1571.1,1458.0 L1576.2,1454.5 L1581.4,1456.7 L1586.5,1466.4 L1591.7,1475.4 L1596.8,1467.3 L1602.0,1457.2 L1607.1,1465.9 L1612.3,1483.8 L1617.4,1491.7 L1622.6,1485.2 L1627.7,1473.0 L1632.9,1476.8 L1638.1,1493.3 L1643.2,1492.8 L1648.4,1468.1 L1653.5,1453.7 L1658.7,1468.1 L1663.8,1489.0 L1669.0,1487.1 L1674.1,1468.9 L1679.3,1464.5 L1684.4,1477.0 L1689.6,1478.4 L1694.7,1465.4 L1699.9,1462.9 L1705.0,1476.2 L1710.2,1490.0 L1715.4,1489.0 L1720.5,1476.2 L1725.7,1467.3 L1730.8,1470.2 L1736.0,1475.4 L1741.1,1468.1 L1746.3,1455.6 L1751.4,1455.3 L1756.6,1469.4 L1761.7,1481.1 L1766.9,1474.6 L1772.0,1462.6 L1777.2,1464.8 L1782.3,1478.4 L1787.5,1484.3 L1792.6,1481.6 L1797.8,1479.7 L1803.0,1484.3 L1808.1,1487.6 L1813.3,1486.2 L1818.4,1479.7 L1823.6,1471.9 L1828.7,1474.9 L1833.9,1485.2 L1839.0,1487.1 L1844.2,1476.2 L1849.3,1466.2 L1854.5,1465.4 L1859.6,1466.7 L1864.8,1459.4 L1869.9,1451.8 L1875.1,1462.6 L1880.3,1478.9 L1885.4,1481.1 L1890.6,1475.1 L1895.7,1474.9 L1900.9,1475.7 L1906.0,1471.3 L1911.2,1467.3 L1916.3,1468.1 L1921.5,1471.6 L1926.6,1474.9 L1931.8,1475.7 L1936.9,1474.3 L1942.1,1474.3 L1947.2,1481.6 L1952.4,1491.9 L1957.6,1489.2 L1962.7,1470.8 L1967.9,1459.9 L1973.0,1466.2 L1978.2,1468.1 L1983.3,1461.8 L1988.5,1465.4 L1993.6,1476.2 L1998.8,1483.0 L2003.9,1484.9 L2009.1,1477.6 L2014.2,1468.6 L2019.4,1470.0 L2024.5,1476.8 L2029.7,1473.5 L2034.9,1463.2 L2040.0,1463.7 L2045.2,1477.0 L2050.3,1484.3 L2055.5,1479.7 L2060.6,1474.9 L2065.8,1473.0 L2070.9,1472.1 L2076.1,1469.4 L2081.2,1464.0 L2086.4,1460.5 L2091.5,1465.4 L2096.7,1470.8 L2099.9,1472.1 L2103.4,1470.5 L2107.7,1472.3 L2112.3,1478.6"/>
<path stroke="#808080" d="M304.4,1474.1 L381.4,1474.4 L462.7,1473.8 L544.1,1474.1 L625.5,1473.6 L706.8,1473.8 L788.2,1473.6 L899.9,1473.6 L908.1,1474.2 L919.0,1473.9 L929.8,1475.0 L935.3,1473.9 L940.4,1468.7 L945.0,1466.0 L950.2,1472.8 L955.3,1480.4 L960.5,1498.0 L965.6,1499.9 L970.8,1481.7 L975.9,1463.3 L981.1,1459.2 L986.2,1463.8 L991.4,1459.2 L996.6,1456.5 L1001.7,1472.3 L1006.9,1491.8 L1012.0,1494.5 L1017.2,1475.0 L1022.3,1454.6 L1027.5,1461.9 L1032.6,1477.7 L1037.8,1475.0 L1042.9,1461.9 L1048.1,1461.4 L1053.2,1479.0 L1058.4,1500.7 L1063.5,1489.9 L1068.7,1464.1 L1073.9,1458.7 L1079.0,1479.6 L1084.2,1489.9 L1089.3,1476.3 L1094.5,1459.8 L1099.6,1460.3 L1104.8,1483.9 L1109.9,1491.2 L1115.1,1472.8 L1120.2,1454.6 L1125.4,1472.8 L1130.5,1500.2 L1135.7,1507.5 L1140.8,1484.5 L1146.0,1466.0 L1151.2,1470.9 L1156.3,1481.2 L1161.5,1461.9 L1166.6,1424.0 L1171.8,1412.6 L1176.9,1444.3 L1182.1,1494.8 L1187.2,1517.0 L1192.4,1495.3 L1197.5,1479.0 L1202.7,1483.1 L1207.8,1488.3 L1213.0,1483.6 L1218.1,1477.7 L1223.3,1473.3 L1228.5,1470.9 L1233.6,1466.0 L1238.8,1456.5 L1243.9,1457.1 L1249.1,1473.6 L1254.2,1494.5 L1259.4,1491.2 L1264.5,1468.7 L1269.7,1461.4 L1274.8,1478.2 L1280.0,1487.7 L1285.1,1471.4 L1290.3,1448.4 L1295.4,1447.6 L1300.6,1470.1 L1305.7,1489.1 L1310.9,1487.2 L1316.1,1474.2 L1321.2,1474.7 L1326.4,1488.0 L1331.5,1490.4 L1336.7,1476.9 L1341.8,1462.8 L1347.0,1475.5 L1352.1,1490.7 L1357.3,1485.8 L1362.4,1459.2 L1367.6,1445.7 L1372.7,1458.7 L1377.9,1482.6 L1383.0,1489.9 L1388.2,1478.2 L1393.4,1468.7 L1398.5,1478.2 L1403.7,1488.5 L1408.8,1476.3 L1414.0,1465.2 L1419.1,1464.7 L1424.3,1479.0 L1429.4,1485.3 L1434.6,1475.0 L1439.7,1455.2 L1444.9,1457.3 L1450.0,1479.0 L1455.2,1493.4 L1460.3,1479.0 L1465.5,1466.3 L1470.7,1465.2 L1475.8,1476.3 L1481.0,1479.8 L1486.1,1471.4 L1491.3,1463.3 L1496.4,1468.7 L1499.9,1475.5 L1502.7,1481.7 L1507.9,1480.9 L1513.0,1471.4 L1518.2,1469.3 L1523.3,1477.7 L1528.5,1483.6 L1533.6,1475.0 L1538.8,1462.8 L1543.9,1463.8 L1549.1,1479.6 L1554.2,1489.1 L1559.4,1484.5 L1564.6,1476.1 L1569.7,1475.2 L1574.9,1477.4 L1580.0,1474.7 L1585.2,1466.6 L1590.3,1462.2 L1595.5,1466.6 L1600.6,1471.2 L1605.8,1467.9 L1610.9,1462.8 L1616.1,1465.5 L1621.2,1475.5 L1626.4,1479.6 L1631.5,1476.3 L1636.7,1474.7 L1641.8,1480.9 L1647.0,1487.2 L1652.2,1482.3 L1657.3,1470.1 L1662.5,1463.6 L1667.6,1467.9 L1672.8,1476.9 L1677.9,1479.0 L1683.1,1474.7 L1688.2,1473.9 L1693.4,1479.0 L1698.5,1482.8 L1703.7,1476.3 L1708.8,1467.6 L1714.0,1466.6 L1719.1,1474.2 L1724.3,1479.0 L1729.5,1475.0 L1734.6,1468.2 L1739.8,1468.2 L1744.9,1475.0 L1750.1,1479.8 L1755.2,1477.7 L1760.4,1472.0 L1765.5,1470.9 L1770.7,1474.2 L1775.8,1475.5 L1781.0,1472.3 L1786.1,1470.1 L1791.3,1472.0 L1796.4,1475.0 L1801.6,1474.4 L1806.8,1470.1 L1811.9,1467.9 L1817.1,1470.9 L1822.2,1475.5 L1827.4,1476.6 L1832.5,1475.0 L1837.7,1474.7 L1842.8,1476.6 L1848.0,1477.4 L1853.1,1476.3 L1858.3,1475.0 L1863.4,1475.8 L1868.6,1476.1 L1873.7,1474.4 L1878.9,1472.0 L1884.1,1472.5 L1889.2,1477.4 L1894.4,1480.4 L1899.5,1479.0 L1904.7,1474.4 L1909.8,1472.3 L1915.0,1473.1 L1920.1,1472.8 L1925.3,1470.6 L1930.4,1469.3 L1935.6,1470.4 L1940.7,1471.4 L1945.9,1470.6 L1951.0,1469.5 L1956.2,1471.2 L1961.4,1474.7 L1966.5,1476.3 L1971.7,1473.6 L1976.8,1470.1 L1982.0,1470.9 L1987.1,1476.3 L1992.3,1480.9 L1997.4,1480.1 L2002.6,1476.3 L2007.7,1474.7 L2012.9,1475.5 L2018.0,1476.1 L2023.2,1474.4 L2028.3,1472.8 L2033.5,1473.9 L2038.6,1476.1 L2043.8,1475.5 L2049.0,1472.5 L2054.1,1470.6 L2059.3,1472.0 L2064.4,1474.2 L2069.6,1474.2 L2074.7,1472.8 L2079.9,1472.8 L2085.0,1474.7 L2090.2,1476.1 L2095.3,1474.7 L2099.9,1472.3 L2106.0,1473.1 L2112.3,1473.6"/>
<path stroke="#808080" d="M304.4,1474.1 L335.3,1474.6 L373.2,1473.5 L389.5,1474.9 L430.2,1473.0 L443.7,1471.4 L462.7,1473.3 L484.4,1475.2 L511.6,1473.8 L530.5,1472.4 L560.4,1473.5 L576.6,1472.7 L598.3,1476.5 L611.9,1480.6 L619.0,1480.8 L625.5,1476.0 L633.6,1469.2 L640.4,1466.5 L647.2,1469.2 L658.0,1476.0 L664.8,1477.9 L671.6,1474.6 L679.7,1467.8 L686.5,1464.8 L693.3,1467.8 L701.4,1474.6 L708.2,1480.0 L713.6,1480.3 L720.4,1475.2 L728.5,1469.7 L734.0,1468.6 L740.7,1471.4 L747.5,1474.6 L755.7,1476.0 L766.5,1473.8 L777.4,1469.2 L784.1,1469.2 L790.9,1474.6 L799.1,1479.5 L809.6,1480.0 L818.0,1480.6 L826.2,1483.8 L833.0,1484.6 L839.7,1482.7 L847.9,1477.3 L858.7,1472.7 L869.6,1468.6 L876.3,1467.0 L881.8,1467.8 L887.2,1471.4 L891.3,1473.5 L896.7,1471.4 L899.9,1468.6 L904.1,1462.4 L909.2,1455.0 L914.4,1452.9 L919.5,1459.6 L924.7,1471.3 L929.8,1478.1 L935.0,1475.1 L940.1,1468.6 L945.3,1469.1 L950.4,1477.3 L955.6,1485.4 L960.8,1484.9 L965.9,1480.8 L971.1,1482.7 L976.2,1494.9 L980.8,1503.0 L986.0,1494.4 L991.1,1475.9 L996.3,1464.5 L1001.4,1471.3 L1006.6,1485.4 L1011.7,1488.9 L1016.9,1480.8 L1022.1,1473.2 L1027.2,1472.4 L1032.4,1471.9 L1037.5,1463.7 L1042.7,1451.0 L1047.8,1450.4 L1053.0,1465.1 L1058.1,1476.7 L1063.3,1470.5 L1068.4,1454.2 L1073.6,1451.5 L1078.7,1463.7 L1083.9,1475.9 L1089.0,1473.2 L1094.2,1460.5 L1099.3,1454.2 L1104.5,1461.0 L1109.7,1474.0 L1114.8,1479.4 L1120.0,1481.3 L1125.1,1494.9 L1130.3,1522.0 L1135.4,1535.0 L1140.6,1520.1 L1145.7,1485.4 L1150.9,1458.3 L1156.0,1446.1 L1161.2,1442.0 L1166.3,1433.9 L1171.5,1428.5 L1176.6,1439.3 L1181.8,1462.4 L1187.0,1485.4 L1192.1,1486.0 L1197.3,1476.7 L1202.4,1478.6 L1207.6,1494.1 L1212.7,1503.9 L1217.9,1493.6 L1223.0,1473.2 L1228.2,1468.6 L1233.3,1484.1 L1238.5,1494.9 L1243.6,1488.9 L1248.8,1471.3 L1253.9,1462.9 L1259.1,1470.5 L1264.3,1481.9 L1269.4,1479.4 L1274.6,1464.5 L1279.7,1453.4 L1284.9,1456.9 L1290.0,1464.3 L1295.2,1465.9 L1300.3,1463.2 L1305.5,1464.5 L1310.6,1474.0 L1315.8,1483.5 L1320.9,1483.2 L1326.1,1478.6 L1331.2,1478.1 L1336.4,1482.7 L1341.6,1484.9 L1346.7,1477.3 L1351.9,1467.8 L1357.0,1465.1 L1362.2,1467.0 L1367.3,1468.1 L1372.5,1463.7 L1377.6,1459.6 L1382.8,1463.7 L1387.9,1474.6 L1393.1,1482.7 L1398.2,1480.8 L1403.4,1473.2 L1408.5,1470.5 L1413.7,1476.7 L1418.9,1481.9 L1424.0,1475.9 L1429.2,1468.3 L1434.3,1467.2 L1439.5,1475.9 L1444.6,1485.4 L1449.8,1486.2 L1454.9,1479.4 L1460.1,1474.0 L1465.2,1473.8 L1470.4,1472.7 L1475.5,1465.1 L1480.7,1455.6 L1485.8,1454.2 L1491.0,1462.4 L1496.1,1469.1 L1499.9,1470.0 L1502.7,1470.5 L1507.9,1466.4 L1513.0,1468.6 L1518.2,1476.7 L1523.3,1482.7 L1528.5,1479.2 L1533.6,1474.6 L1538.8,1480.0 L1543.9,1493.6 L1549.1,1501.7 L1554.2,1497.1 L1559.4,1484.1 L1564.6,1478.6 L1569.7,1480.8 L1574.9,1481.3 L1580.0,1473.8 L1585.2,1465.9 L1590.3,1463.7 L1595.5,1466.4 L1600.6,1467.5 L1605.8,1463.7 L1610.9,1459.9 L1616.1,1461.8 L1621.2,1467.2 L1626.4,1469.1 L1631.5,1466.4 L1636.7,1464.3 L1641.8,1469.1 L1647.0,1475.4 L1652.2,1475.9 L1657.3,1470.5 L1662.5,1467.5 L1667.6,1473.2 L1672.8,1481.1 L1677.9,1482.2 L1683.1,1476.7 L1688.2,1474.0 L1693.4,1478.6 L1698.5,1484.3 L1703.7,1484.1 L1708.8,1478.1 L1714.0,1473.2 L1719.1,1473.8 L1724.3,1475.4 L1729.5,1474.0 L1734.6,1469.1 L1739.8,1466.4 L1744.9,1470.5 L1750.1,1476.7 L1755.2,1479.2 L1760.4,1476.5 L1765.5,1473.8 L1770.7,1474.6 L1775.8,1475.6 L1781.0,1471.9 L1786.1,1465.1 L1791.3,1462.9 L1796.4,1467.8 L1801.6,1473.8 L1806.8,1475.1 L1811.9,1472.4 L1817.1,1470.5 L1822.2,1471.0 L1827.4,1471.6 L1832.5,1468.6 L1837.7,1465.1 L1842.8,1465.9 L1848.0,1471.9 L1853.1,1477.3 L1858.3,1477.3 L1863.4,1474.3 L1868.6,1474.6 L1873.7,1479.4 L1878.9,1483.5 L1884.1,1482.2 L1889.2,1478.1 L1894.4,1477.3 L1899.5,1480.8 L1904.7,1482.4 L1909.8,1478.9 L1915.0,1474.0 L1920.1,1472.1 L1925.3,1473.8 L1930.4,1475.4 L1935.6,1474.8 L1940.7,1473.8 L1945.9,1473.5 L1951.0,1474.0 L1956.2,1472.9 L1961.4,1469.7 L1966.5,1466.4 L1971.7,1465.9 L1976.8,1467.5 L1982.0,1467.8 L1987.1,1466.2 L1992.3,1465.6 L1997.4,1469.1 L2002.6,1473.2 L2007.7,1474.3 L2012.9,1473.2 L2018.0,1472.9 L2023.2,1475.4 L2028.3,1478.4 L2033.5,1480.3 L2038.6,1480.8 L2043.8,1480.5 L2049.0,1480.3 L2054.1,1479.2 L2059.3,1476.7 L2064.4,1474.0 L2069.6,1472.7 L2074.7,1472.9 L2079.9,1473.2 L2085.0,1472.7 L2090.2,1472.1 L2095.3,1471.9 L2099.9,1471.9 L2107.7,1471.7 L2112.3,1470.1"/>
<path stroke="#0000ff" d="M304.4,1473.7 L310.8,1471.5 L319.0,1474.8 L325.8,1475.9 L333.9,1474.8 L340.7,1472.3 L346.1,1471.8 L354.2,1475.1 L361.0,1475.9 L370.5,1473.4 L380.0,1475.1 L390.9,1473.2 L403.1,1476.1 L411.2,1474.0 L418.5,1470.7 L424.8,1473.7 L430.2,1477.2 L434.3,1477.2 L439.7,1473.2 L444.6,1471.3 L454.6,1475.6 L465.4,1473.4 L475.8,1475.9 L487.1,1474.0 L499.3,1475.1 L517.0,1475.3 L529.2,1472.1 L533.3,1472.6 L542.7,1476.9 L553.6,1472.6 L559.0,1472.3 L568.5,1475.3 L580.7,1474.0 L594.3,1475.6 L605.1,1472.1 L614.6,1476.1 L625.5,1472.6 L636.3,1474.8 L649.9,1473.4 L663.4,1474.0 L677.0,1473.7 L687.8,1475.1 L701.4,1473.4 L720.4,1474.8 L736.7,1473.4 L747.5,1474.0 L759.7,1471.8 L770.6,1475.9 L774.6,1475.9 L781.4,1472.1 L786.8,1471.5 L796.3,1475.6 L809.9,1473.7 L820.7,1473.4 L834.3,1475.3 L850.6,1474.0 L862.8,1475.3 L879.1,1473.2 L899.9,1475.1 L914.9,1475.9 L927.1,1473.7 L932.5,1475.1 L940.7,1472.9 L951.5,1474.8 L961.0,1474.2 L971.1,1475.1 L978.7,1473.4 L987.3,1474.8 L997.1,1472.6 L1008.5,1474.5 L1018.5,1472.9 L1030.2,1474.0 L1051.9,1474.0 L1068.2,1474.8 L1079.5,1472.3 L1089.9,1474.2 L1100.7,1473.4 L1108.8,1473.7 L1116.2,1472.1 L1121.6,1474.0 L1126.7,1483.2 L1131.9,1497.8 L1137.0,1501.9 L1142.2,1486.2 L1147.4,1468.5 L1152.5,1462.6 L1157.7,1466.4 L1162.8,1465.0 L1168.0,1447.9 L1173.1,1437.9 L1178.3,1458.2 L1183.4,1491.6 L1188.6,1499.5 L1193.7,1475.3 L1198.9,1452.0 L1204.0,1458.5 L1209.2,1484.0 L1214.3,1489.4 L1219.5,1467.7 L1224.7,1455.3 L1229.8,1474.8 L1235.2,1496.5 L1240.4,1492.7 L1245.5,1472.9 L1250.7,1466.6 L1255.8,1474.5 L1261.0,1475.3 L1266.2,1464.7 L1271.3,1461.8 L1276.5,1477.2 L1281.6,1492.1 L1286.8,1484.5 L1291.9,1461.5 L1297.1,1455.5 L1302.2,1473.7 L1307.4,1492.1 L1312.8,1501.9 L1318.0,1501.6 L1323.1,1496.5 L1328.3,1491.6 L1333.1,1481.3 L1338.3,1451.5 L1343.4,1419.5 L1348.9,1412.7 L1354.0,1436.5 L1359.2,1467.7 L1364.3,1487.3 L1369.5,1488.3 L1374.6,1482.4 L1379.8,1491.3 L1384.9,1507.1 L1390.1,1500.8 L1395.3,1480.7 L1400.4,1471.3 L1405.6,1474.0 L1411.0,1476.4 L1416.1,1467.5 L1421.3,1456.1 L1426.4,1457.2 L1431.6,1471.5 L1436.8,1485.4 L1441.9,1482.4 L1447.1,1471.5 L1452.2,1471.8 L1457.4,1478.8 L1462.5,1473.7 L1467.7,1454.2 L1472.8,1443.3 L1478.0,1454.7 L1483.1,1478.6 L1488.3,1490.5 L1493.4,1487.0 L1498.6,1481.3 L1500.0,1480.7 L1508.1,1480.5 L1514.9,1479.9 L1519.0,1481.3 L1524.4,1485.4 L1529.6,1488.1 L1534.7,1481.3 L1539.9,1467.7 L1545.0,1461.2 L1550.2,1463.7 L1555.3,1466.9 L1560.5,1466.4 L1565.6,1465.0 L1570.8,1467.7 L1575.9,1475.9 L1581.1,1483.7 L1586.2,1479.4 L1591.4,1468.3 L1596.6,1467.7 L1601.7,1478.6 L1606.9,1485.6 L1612.0,1479.4 L1617.2,1466.4 L1622.3,1460.1 L1627.5,1470.4 L1632.6,1487.5 L1638.1,1491.6 L1643.2,1478.6 L1648.4,1466.9 L1653.5,1469.6 L1658.7,1478.6 L1663.8,1477.2 L1669.0,1465.0 L1674.1,1456.1 L1679.3,1461.5 L1684.4,1473.2 L1689.6,1475.3 L1694.7,1471.8 L1699.9,1471.5 L1705.0,1474.8 L1710.2,1476.7 L1715.4,1475.6 L1720.5,1475.3 L1725.7,1480.5 L1730.8,1487.8 L1736.0,1490.2 L1741.1,1486.2 L1746.3,1481.8 L1751.4,1478.6 L1756.6,1474.2 L1761.7,1465.0 L1766.9,1459.3 L1772.0,1461.5 L1777.2,1465.0 L1782.3,1462.0 L1787.5,1458.5 L1792.6,1464.5 L1797.8,1475.1 L1803.0,1477.5 L1808.1,1473.2 L1813.3,1474.8 L1818.4,1486.2 L1823.8,1494.0 L1829.0,1486.2 L1834.1,1473.2 L1839.3,1468.3 L1844.5,1472.6 L1849.6,1476.1 L1854.8,1474.0 L1859.9,1470.7 L1865.1,1473.2 L1870.2,1478.0 L1875.4,1478.3 L1880.5,1472.1 L1885.7,1468.3 L1890.8,1471.8 L1896.0,1476.4 L1901.1,1475.9 L1906.3,1472.6 L1911.4,1473.4 L1916.6,1478.0 L1921.8,1479.9 L1926.9,1475.3 L1932.1,1470.4 L1937.2,1473.2 L1942.4,1478.0 L1947.5,1475.6 L1952.7,1466.6 L1957.8,1464.7 L1963.0,1474.0 L1968.4,1481.8 L1973.6,1477.5 L1978.7,1468.3 L1983.9,1468.3 L1989.0,1475.1 L1994.2,1476.1 L1999.3,1469.1 L2004.5,1465.0 L2009.6,1470.4 L2014.8,1478.6 L2019.9,1478.8 L2025.1,1472.6 L2030.2,1470.4 L2035.4,1477.2 L2040.8,1481.8 L2046.0,1476.4 L2051.1,1469.9 L2056.3,1471.0 L2061.4,1477.2 L2066.6,1480.7 L2071.7,1479.4 L2076.9,1477.2 L2082.0,1478.0 L2087.2,1479.7 L2092.4,1476.9 L2097.5,1470.4 L2099.9,1468.5 L2102.8,1466.6 L2107.5,1469.3 L2112.3,1472.1"/>
</g>
<rect x="661.43" y="213.15" width="8.33" height="56.10" fill="#ff0000"/>
<rect x="914.63" y="213.15" width="8.33" height="56.10" fill="#00e600"/>
<rect x="1113.93" y="325.45" width="8.33" height="56.10" fill="#ff0000"/>
<rect x="1411.93" y="325.45" width="8.33" height="56.10" fill="#00e600"/>
<rect x="945.73" y="437.45" width="8.33" height="56.10" fill="#ff0000"/>
<rect x="1239.73" y="437.45" width="8.33" height="56.10" fill="#00e600"/>
<rect x="1117.93" y="549.35" width="8.33" height="56.10" fill="#ff0000"/>
<rect x="1398.63" y="549.35" width="8.33" height="56.10" fill="#00e600"/>
<rect x="1100.03" y="661.45" width="8.33" height="56.10" fill="#ff0000"/>
<rect x="1349.63" y="661.45" width="8.33" height="56.10" fill="#00e600"/>
<rect x="955.73" y="773.55" width="8.33" height="56.10" fill="#ff0000"/>
<rect x="1242.43" y="773.55" width="8.33" height="56.10" fill="#00e600"/>
<rect x="1123.93" y="885.55" width="8.33" height="56.10" fill="#ff0000"/>
<rect x="1395.43" y="885.55" width="8.33" height="56.10" fill="#00e600"/>
<rect x="942.23" y="997.85" width="8.33" height="56.10" fill="#ff0000"/>
<rect x="1244.03" y="997.85" width="8.33" height="56.10" fill="#00e600"/>
<rect x="916.43" y="1109.95" width="8.33" height="56.10" fill="#ff0000"/>
<rect x="1204.43" y="1109.95" width="8.33" height="56.10" fill="#00e600"/>
<rect x="940.83" y="1221.85" width="8.33" height="56.10" fill="#ff0000"/>
<rect x="1244.03" y="1221.85" width="8.33" height="56.10" fill="#00e600"/>
<rect x="614.83" y="1334.45" width="8.33" height="56.10" fill="#ff0000"/>
<rect x="805.43" y="1334.45" width="8.33" height="56.10" fill="#00e600"/>
<text x="458.4" y="1616.8" font-size="41.67" letter-spacing="0.5" text-anchor="middle" fill="#262626">-0.2</text>
<text x="665.0" y="1616.8" font-size="41.67" letter-spacing="0.5" text-anchor="middle" fill="#262626">0</text>
<text x="871.6" y="1616.8" font-size="41.67" letter-spacing="0.5" text-anchor="middle" fill="#262626">0.2</text>
<text x="1078.2" y="1616.8" font-size="41.67" letter-spacing="0.5" text-anchor="middle" fill="#262626">0.4</text>
<text x="1284.9" y="1616.8" font-size="41.67" letter-spacing="0.5" text-anchor="middle" fill="#262626">0.6</text>
<text x="1491.5" y="1616.8" font-size="41.67" letter-spacing="0.5" text-anchor="middle" fill="#262626">0.8</text>
<text x="1698.1" y="1616.8" font-size="41.67" letter-spacing="0.5" text-anchor="middle" fill="#262626">1</text>
<text x="1904.7" y="1616.8" font-size="41.67" letter-spacing="0.5" text-anchor="middle" fill="#262626">1.2</text>
<text x="2111.3" y="1616.8" font-size="41.67" letter-spacing="0.5" text-anchor="middle" fill="#262626">1.4</text>
</svg></body></html>
